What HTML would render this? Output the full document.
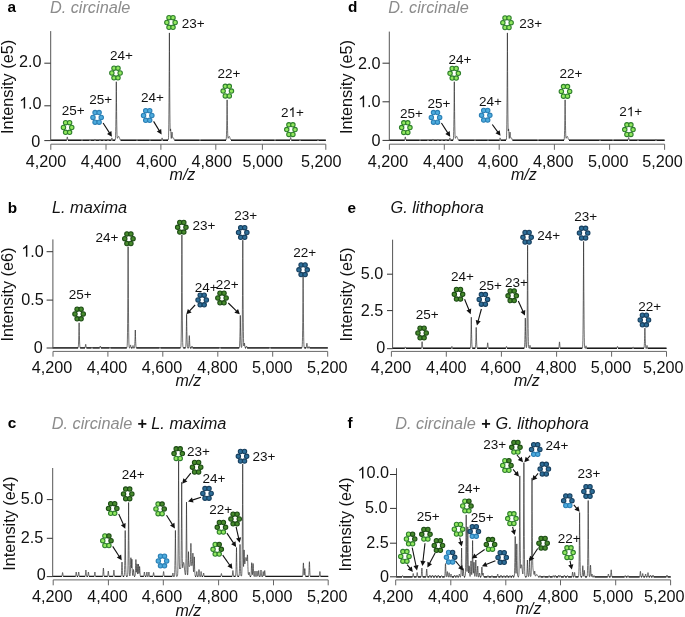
<!DOCTYPE html>
<html><head><meta charset="utf-8"><style>
html,body{margin:0;padding:0;background:#fff;}
svg{display:block;}
#w{width:685px;height:617px;overflow:hidden;will-change:transform;}
text{font-family:"Liberation Sans", sans-serif;}
</style></head><body>
<div id="w"><svg width="685" height="617" viewBox="0 0 685 617">
<rect width="685" height="617" fill="#fff"/>
<path d="M50.70 140.25H66.60 M68.00 140.25H81.60 M82.40 140.25H89.50 M90.50 140.25H94.50 M95.50 140.25H99.50 M100.50 140.25H103.50 M104.50 140.25H107.50 M108.50 140.25H111.30 M112.50 140.25H115.10 M120.60 140.25H136.60 M137.40 140.25H149.60 M150.40 140.25H161.50 M162.70 140.25H168.00 M174.50 140.25H199.60 M200.40 140.25H226.00 M231.00 140.25H261.50 M262.50 140.25H274.60 M275.40 140.25H290.00 M291.40 140.25H299.50 M300.50 140.25H317.50 M318.50 140.25H325.80" stroke="#111" stroke-width="1.3" fill="none"/>
<polyline points="50.70,140.40 66.30,140.39 66.40,140.36 66.50,140.30 66.60,140.17 66.70,139.93 66.80,139.53 66.90,138.96 67.00,138.28 67.10,137.60 67.20,137.09 67.30,136.90 67.40,137.09 67.50,137.60 67.60,138.28 67.70,138.96 67.80,139.53 67.90,139.93 68.00,140.17 68.10,140.30 68.20,140.36 68.30,140.39 81.20,140.38 81.30,140.35 81.40,140.31 81.50,140.23 81.60,140.11 81.70,139.98 81.80,139.84 81.90,139.74 82.00,139.70 82.10,139.74 82.20,139.84 82.30,139.98 82.40,140.11 82.50,140.23 82.60,140.31 82.70,140.35 82.80,140.38 89.10,140.39 89.20,140.37 89.30,140.33 89.40,140.26 89.50,140.15 89.60,139.99 89.70,139.79 89.80,139.60 89.90,139.45 90.00,139.40 90.10,139.45 90.20,139.60 90.30,139.79 90.40,139.99 90.50,140.15 90.60,140.26 90.70,140.33 90.80,140.37 90.90,140.39 94.10,140.38 94.20,140.36 94.30,140.31 94.40,140.21 94.50,140.05 94.60,139.82 94.70,139.55 94.80,139.28 94.90,139.08 95.00,139.00 95.10,139.08 95.20,139.28 95.30,139.55 95.40,139.82 95.50,140.05 95.60,140.21 95.70,140.31 95.80,140.36 95.90,140.38 99.10,140.39 99.20,140.37 99.30,140.32 99.40,140.24 99.50,140.10 99.60,139.91 99.70,139.67 99.80,139.44 99.90,139.26 100.00,139.20 100.10,139.26 100.20,139.44 100.30,139.67 100.40,139.91 100.50,140.10 100.60,140.24 100.70,140.32 100.80,140.37 100.90,140.39 103.10,140.39 103.20,140.37 103.30,140.33 103.40,140.26 103.50,140.15 103.60,139.99 103.70,139.79 103.80,139.60 103.90,139.45 104.00,139.40 104.10,139.45 104.20,139.60 104.30,139.79 104.40,139.99 104.50,140.15 104.60,140.26 104.70,140.33 104.80,140.37 104.90,140.39 107.10,140.39 107.20,140.37 107.30,140.32 107.40,140.24 107.50,140.10 107.60,139.91 107.70,139.67 107.80,139.44 107.90,139.26 108.00,139.20 108.10,139.26 108.20,139.44 108.30,139.67 108.40,139.91 108.50,140.10 108.60,140.24 108.70,140.32 108.80,140.37 108.90,140.39 110.90,140.39 111.00,140.37 111.10,140.33 111.20,140.24 111.30,140.06 111.40,139.78 111.50,139.37 111.60,138.88 111.70,138.40 111.80,138.04 111.90,137.90 112.00,138.04 112.10,138.40 112.20,138.88 112.30,139.37 112.40,139.78 112.50,140.06 112.60,140.24 112.70,140.33 112.80,140.37 112.90,140.39 113.80,140.40 113.90,140.35 114.00,140.34 114.10,140.34 114.20,140.33 114.30,140.33 114.40,140.32 114.50,140.31 114.60,140.30 114.70,140.28 114.80,140.27 114.90,140.24 115.00,140.20 115.10,140.12 115.20,139.95 115.30,139.60 115.40,138.89 115.50,137.55 115.60,135.23 115.70,131.58 115.80,126.36 115.90,119.63 116.00,111.75 116.10,102.91 116.20,91.79 116.30,81.75 116.40,91.70 116.50,102.73 116.60,111.47 116.70,119.25 116.80,125.85 116.90,130.93 117.00,134.42 117.10,136.56 117.20,137.71 117.30,138.20 117.40,138.31 117.50,138.23 117.60,138.04 117.70,137.82 117.80,137.57 117.90,137.33 118.00,137.10 118.10,136.88 118.20,136.69 118.30,136.54 118.40,136.43 118.50,136.36 118.60,136.34 118.70,136.37 118.80,136.50 118.90,136.62 119.00,136.78 119.10,136.97 119.20,137.20 119.30,137.44 119.40,137.71 119.50,137.97 119.60,138.24 119.70,138.50 119.80,138.76 119.90,138.99 120.00,139.21 120.10,139.40 120.20,139.58 120.30,139.73 120.40,139.86 120.50,139.97 120.60,140.06 120.70,140.14 120.80,140.20 120.90,140.25 121.00,140.29 121.10,140.32 121.20,140.34 121.30,140.36 121.40,140.37 121.50,140.38 121.60,140.38 136.10,140.39 136.20,140.38 136.30,140.35 136.40,140.29 136.50,140.20 136.60,140.07 136.70,139.91 136.80,139.76 136.90,139.64 137.00,139.60 137.10,139.64 137.20,139.76 137.30,139.91 137.40,140.07 137.50,140.20 137.60,140.29 137.70,140.35 137.80,140.38 137.90,140.39 149.10,140.39 149.20,140.38 149.30,140.35 149.40,140.29 149.50,140.20 149.60,140.07 149.70,139.91 149.80,139.76 149.90,139.64 150.00,139.60 150.10,139.64 150.20,139.76 150.30,139.91 150.40,140.07 150.50,140.20 150.60,140.29 150.70,140.35 150.80,140.38 150.90,140.39 161.10,140.39 161.20,140.37 161.30,140.33 161.40,140.24 161.50,140.06 161.60,139.78 161.70,139.37 161.80,138.88 161.90,138.40 162.00,138.04 162.10,137.90 162.20,138.04 162.30,138.40 162.40,138.88 162.50,139.37 162.60,139.78 162.70,140.06 162.80,140.24 162.90,140.33 163.00,140.37 163.10,140.39 166.10,140.40 166.20,140.35 166.30,140.34 166.40,140.34 166.50,140.34 166.60,140.33 166.70,140.33 166.80,140.32 166.90,140.31 167.00,140.31 167.10,140.30 167.20,140.29 167.30,140.28 167.40,140.27 167.50,140.25 167.60,140.23 167.70,140.21 167.80,140.19 167.90,140.16 168.00,140.11 168.10,140.04 168.20,139.89 168.30,139.58 168.40,138.94 168.50,137.64 168.60,135.19 168.70,130.93 168.80,124.23 168.90,114.65 169.00,102.32 169.10,87.87 169.20,71.67 169.30,51.28 169.40,32.90 169.50,51.26 169.60,71.62 169.70,87.74 169.80,102.00 169.90,113.93 170.00,122.74 170.10,128.19 170.20,130.66 170.30,130.97 170.40,130.13 170.50,129.18 170.60,128.89 170.70,129.62 170.80,131.28 170.90,133.43 171.00,135.53 171.10,137.17 171.20,138.15 171.30,138.44 171.40,138.09 171.50,137.24 171.60,136.04 171.70,134.67 171.80,133.40 171.90,132.47 172.00,132.08 172.10,132.31 172.20,133.07 172.30,134.17 172.40,135.36 172.50,136.43 172.60,137.24 172.70,137.80 172.80,138.05 172.90,138.10 173.00,138.06 173.10,137.98 173.20,137.91 173.30,137.89 173.40,137.93 173.50,138.03 173.60,138.19 173.70,138.40 173.80,138.63 173.90,138.88 174.00,139.13 174.10,139.37 174.20,139.59 174.30,139.78 174.40,139.93 174.50,140.06 174.60,140.16 174.70,140.24 174.80,140.29 174.90,140.33 175.00,140.35 175.10,140.37 175.20,140.38 199.20,140.38 199.30,140.36 199.40,140.32 199.50,140.25 199.60,140.15 199.70,140.04 199.80,139.92 199.90,139.83 200.00,139.80 200.10,139.83 200.20,139.92 200.30,140.04 200.40,140.15 200.50,140.25 200.60,140.32 200.70,140.36 200.80,140.38 225.00,140.40 225.10,140.35 225.20,140.34 225.30,140.34 225.40,140.33 225.50,140.32 225.60,140.31 225.70,140.29 225.80,140.26 225.90,140.21 226.00,140.09 226.10,139.85 226.20,139.36 226.30,138.43 226.40,136.83 226.50,134.31 226.60,130.70 226.70,126.06 226.80,120.61 226.90,114.50 227.00,106.82 227.10,99.87 227.20,106.73 227.30,114.33 227.40,120.34 227.50,125.67 227.60,130.18 227.70,133.63 227.80,135.98 227.90,137.37 228.00,138.06 228.10,138.30 228.20,138.26 228.30,138.08 228.40,137.84 228.50,137.56 228.60,137.29 228.70,137.03 228.80,136.80 228.90,136.61 229.00,136.47 229.10,136.38 229.20,136.40 229.30,136.43 229.40,136.52 229.50,136.67 229.60,136.87 229.70,137.11 229.80,137.38 229.90,137.67 230.00,137.97 230.10,138.28 230.20,138.57 230.30,138.85 230.40,139.10 230.50,139.33 230.60,139.53 230.70,139.71 230.80,139.86 230.90,139.98 231.00,140.08 231.10,140.16 231.20,140.22 231.30,140.27 231.40,140.31 231.50,140.34 231.60,140.36 231.70,140.37 231.80,140.38 231.90,140.39 261.10,140.39 261.20,140.37 261.30,140.33 261.40,140.26 261.50,140.15 261.60,139.99 261.70,139.79 261.80,139.60 261.90,139.45 262.00,139.40 262.10,139.45 262.20,139.60 262.30,139.79 262.40,139.99 262.50,140.15 262.60,140.26 262.70,140.33 262.80,140.37 262.90,140.39 274.20,140.38 274.30,140.36 274.40,140.32 274.50,140.25 274.60,140.15 274.70,140.04 274.80,139.92 274.90,139.83 275.00,139.80 275.10,139.83 275.20,139.92 275.30,140.04 275.40,140.15 275.50,140.25 275.60,140.32 275.70,140.36 275.80,140.38 289.70,140.39 289.80,140.37 289.90,140.31 290.00,140.20 290.10,139.99 290.20,139.65 290.30,139.17 290.40,138.58 290.50,138.00 290.60,137.56 290.70,137.40 290.80,137.56 290.90,138.00 291.00,138.58 291.10,139.17 291.20,139.65 291.30,139.99 291.40,140.20 291.50,140.31 291.60,140.37 291.70,140.39 299.10,140.39 299.20,140.37 299.30,140.33 299.40,140.26 299.50,140.15 299.60,139.99 299.70,139.79 299.80,139.60 299.90,139.45 300.00,139.40 300.10,139.45 300.20,139.60 300.30,139.79 300.40,139.99 300.50,140.15 300.60,140.26 300.70,140.33 300.80,140.37 300.90,140.39 317.10,140.39 317.20,140.37 317.30,140.32 317.40,140.24 317.50,140.10 317.60,139.91 317.70,139.67 317.80,139.44 317.90,139.26 318.00,139.20 318.10,139.26 318.20,139.44 318.30,139.67 318.40,139.91 318.50,140.10 318.60,140.24 318.70,140.32 318.80,140.37 318.90,140.39 325.80,140.40" fill="none" stroke="#222" stroke-width="0.65" stroke-linejoin="round"/>
<line x1="50.70" y1="31.10" x2="50.70" y2="140.90" stroke="#555" stroke-width="1"/>
<line x1="44.30" y1="63.20" x2="50.70" y2="63.20" stroke="#333" stroke-width="1"/>
<text x="19.11" y="66.80" font-size="16.2" font-weight="normal" font-style="normal" fill="#111" >2.0</text>
<line x1="44.30" y1="105.80" x2="50.70" y2="105.80" stroke="#333" stroke-width="1"/>
<path transform="translate(19.11,108.50) scale(0.00791,-0.00791)" d="M763 0L583 0L583 1147Q518 1085 412 1023Q306 961 222 930L222 1104Q373 1175 486 1276Q599 1377 646 1466L763 1466Z" fill="#111"/>
<text x="19.11" y="108.50" font-size="16.2" font-weight="normal" font-style="normal" fill="#111" > .0</text>
<line x1="44.30" y1="140.60" x2="50.70" y2="140.60" stroke="#333" stroke-width="1"/>
<text x="31.22" y="146.80" font-size="16.2" font-weight="normal" font-style="normal" fill="#111" >0</text>
<line x1="50.80" y1="144.20" x2="325.80" y2="144.20" stroke="#666" stroke-width="1"/>
<line x1="50.80" y1="144.20" x2="50.80" y2="149.80" stroke="#666" stroke-width="1"/>
<line x1="106.00" y1="144.20" x2="106.00" y2="149.80" stroke="#666" stroke-width="1"/>
<line x1="160.90" y1="144.20" x2="160.90" y2="149.80" stroke="#666" stroke-width="1"/>
<line x1="215.80" y1="144.20" x2="215.80" y2="149.80" stroke="#666" stroke-width="1"/>
<line x1="262.40" y1="144.20" x2="262.40" y2="149.80" stroke="#666" stroke-width="1"/>
<line x1="325.80" y1="144.20" x2="325.80" y2="149.80" stroke="#666" stroke-width="1"/>
<text x="25.76" y="166.50" font-size="16.2" font-weight="normal" font-style="normal" fill="#111" >4,200</text>
<text x="80.86" y="166.50" font-size="16.2" font-weight="normal" font-style="normal" fill="#111" >4,400</text>
<text x="136.36" y="166.50" font-size="16.2" font-weight="normal" font-style="normal" fill="#111" >4,600</text>
<text x="191.56" y="166.50" font-size="16.2" font-weight="normal" font-style="normal" fill="#111" >4,800</text>
<text x="242.42" y="166.50" font-size="16.2" font-weight="normal" font-style="normal" fill="#111" >5,000</text>
<text x="301.02" y="166.50" font-size="16.2" font-weight="normal" font-style="normal" fill="#111" >5,200</text>
<text x="169.59" y="180.00" font-size="16" font-weight="normal" font-style="italic" fill="#111" >m/z</text>
<text transform="translate(12.80,133.90) rotate(-90)" x="0" y="0" font-size="16.3" fill="#111">Intensity (e5)</text>
<text x="7.45" y="12.30" font-size="15.3" font-weight="bold" font-style="normal" fill="#000" >a</text>
<text x="49.90" y="12.50" font-size="16.3" font-weight="normal" font-style="italic" fill="#8c8c8c" >D. circinale</text>
<text x="61.64" y="114.60" font-size="13.5" font-weight="normal" font-style="normal" fill="#111" >25+</text>
<text x="89.24" y="104.30" font-size="13.5" font-weight="normal" font-style="normal" fill="#111" >25+</text>
<text x="110.04" y="60.10" font-size="13.5" font-weight="normal" font-style="normal" fill="#111" >24+</text>
<text x="141.04" y="102.10" font-size="13.5" font-weight="normal" font-style="normal" fill="#111" >24+</text>
<text x="181.74" y="27.70" font-size="13.5" font-weight="normal" font-style="normal" fill="#111" >23+</text>
<text x="217.54" y="78.00" font-size="13.5" font-weight="normal" font-style="normal" fill="#111" >22+</text>
<path transform="translate(288.55,116.90) scale(0.00659,-0.00659)" d="M763 0L583 0L583 1147Q518 1085 412 1023Q306 961 222 930L222 1104Q373 1175 486 1276Q599 1377 646 1466L763 1466Z" fill="#111"/>
<text x="281.04" y="116.90" font-size="13.5" font-weight="normal" font-style="normal" fill="#111" >2 +</text>
<line x1="103.10" y1="123.00" x2="109.47" y2="132.91" stroke="#111" stroke-width="1.1"/>
<polygon points="111.90,136.70 107.01,133.90 111.39,131.09" fill="#111"/>
<line x1="153.60" y1="121.40" x2="159.25" y2="130.66" stroke="#111" stroke-width="1.1"/>
<polygon points="161.60,134.50 156.78,131.59 161.21,128.88" fill="#111"/>
<circle cx="65.60" cy="122.70" r="2.2" fill="#90e85e" stroke="#2e7f2c" stroke-width="1.1"/>
<circle cx="69.60" cy="122.70" r="2.2" fill="#90e85e" stroke="#2e7f2c" stroke-width="1.1"/>
<circle cx="63.45" cy="127.50" r="2.2" fill="#90e85e" stroke="#2e7f2c" stroke-width="1.1"/>
<circle cx="71.75" cy="127.50" r="2.2" fill="#90e85e" stroke="#2e7f2c" stroke-width="1.1"/>
<circle cx="65.60" cy="132.30" r="2.2" fill="#90e85e" stroke="#2e7f2c" stroke-width="1.1"/>
<circle cx="69.60" cy="132.30" r="2.2" fill="#90e85e" stroke="#2e7f2c" stroke-width="1.1"/>
<circle cx="95.10" cy="112.60" r="2.2" fill="#4cabdd" stroke="#2a7fb5" stroke-width="1.1"/>
<circle cx="99.10" cy="112.60" r="2.2" fill="#4cabdd" stroke="#2a7fb5" stroke-width="1.1"/>
<circle cx="92.95" cy="117.40" r="2.2" fill="#4cabdd" stroke="#2a7fb5" stroke-width="1.1"/>
<circle cx="101.25" cy="117.40" r="2.2" fill="#4cabdd" stroke="#2a7fb5" stroke-width="1.1"/>
<circle cx="95.10" cy="122.20" r="2.2" fill="#4cabdd" stroke="#2a7fb5" stroke-width="1.1"/>
<circle cx="99.10" cy="122.20" r="2.2" fill="#4cabdd" stroke="#2a7fb5" stroke-width="1.1"/>
<circle cx="114.00" cy="68.20" r="2.2" fill="#90e85e" stroke="#2e7f2c" stroke-width="1.1"/>
<circle cx="118.00" cy="68.20" r="2.2" fill="#90e85e" stroke="#2e7f2c" stroke-width="1.1"/>
<circle cx="111.85" cy="73.00" r="2.2" fill="#90e85e" stroke="#2e7f2c" stroke-width="1.1"/>
<circle cx="120.15" cy="73.00" r="2.2" fill="#90e85e" stroke="#2e7f2c" stroke-width="1.1"/>
<circle cx="114.00" cy="77.80" r="2.2" fill="#90e85e" stroke="#2e7f2c" stroke-width="1.1"/>
<circle cx="118.00" cy="77.80" r="2.2" fill="#90e85e" stroke="#2e7f2c" stroke-width="1.1"/>
<circle cx="145.70" cy="110.70" r="2.2" fill="#4cabdd" stroke="#2a7fb5" stroke-width="1.1"/>
<circle cx="149.70" cy="110.70" r="2.2" fill="#4cabdd" stroke="#2a7fb5" stroke-width="1.1"/>
<circle cx="143.55" cy="115.50" r="2.2" fill="#4cabdd" stroke="#2a7fb5" stroke-width="1.1"/>
<circle cx="151.85" cy="115.50" r="2.2" fill="#4cabdd" stroke="#2a7fb5" stroke-width="1.1"/>
<circle cx="145.70" cy="120.30" r="2.2" fill="#4cabdd" stroke="#2a7fb5" stroke-width="1.1"/>
<circle cx="149.70" cy="120.30" r="2.2" fill="#4cabdd" stroke="#2a7fb5" stroke-width="1.1"/>
<circle cx="169.00" cy="17.70" r="2.2" fill="#90e85e" stroke="#2e7f2c" stroke-width="1.1"/>
<circle cx="173.00" cy="17.70" r="2.2" fill="#90e85e" stroke="#2e7f2c" stroke-width="1.1"/>
<circle cx="166.85" cy="22.50" r="2.2" fill="#90e85e" stroke="#2e7f2c" stroke-width="1.1"/>
<circle cx="175.15" cy="22.50" r="2.2" fill="#90e85e" stroke="#2e7f2c" stroke-width="1.1"/>
<circle cx="169.00" cy="27.30" r="2.2" fill="#90e85e" stroke="#2e7f2c" stroke-width="1.1"/>
<circle cx="173.00" cy="27.30" r="2.2" fill="#90e85e" stroke="#2e7f2c" stroke-width="1.1"/>
<circle cx="225.30" cy="86.30" r="2.2" fill="#90e85e" stroke="#2e7f2c" stroke-width="1.1"/>
<circle cx="229.30" cy="86.30" r="2.2" fill="#90e85e" stroke="#2e7f2c" stroke-width="1.1"/>
<circle cx="223.15" cy="91.10" r="2.2" fill="#90e85e" stroke="#2e7f2c" stroke-width="1.1"/>
<circle cx="231.45" cy="91.10" r="2.2" fill="#90e85e" stroke="#2e7f2c" stroke-width="1.1"/>
<circle cx="225.30" cy="95.90" r="2.2" fill="#90e85e" stroke="#2e7f2c" stroke-width="1.1"/>
<circle cx="229.30" cy="95.90" r="2.2" fill="#90e85e" stroke="#2e7f2c" stroke-width="1.1"/>
<circle cx="288.90" cy="124.80" r="2.2" fill="#90e85e" stroke="#2e7f2c" stroke-width="1.1"/>
<circle cx="292.90" cy="124.80" r="2.2" fill="#90e85e" stroke="#2e7f2c" stroke-width="1.1"/>
<circle cx="286.75" cy="129.60" r="2.2" fill="#90e85e" stroke="#2e7f2c" stroke-width="1.1"/>
<circle cx="295.05" cy="129.60" r="2.2" fill="#90e85e" stroke="#2e7f2c" stroke-width="1.1"/>
<circle cx="288.90" cy="134.40" r="2.2" fill="#90e85e" stroke="#2e7f2c" stroke-width="1.1"/>
<circle cx="292.90" cy="134.40" r="2.2" fill="#90e85e" stroke="#2e7f2c" stroke-width="1.1"/>
<path d="M389.30 140.25H404.60 M406.00 140.25H419.60 M420.40 140.25H427.50 M428.50 140.25H432.50 M433.50 140.25H437.50 M438.50 140.25H441.50 M442.50 140.25H445.50 M446.50 140.25H449.30 M450.50 140.25H453.10 M458.60 140.25H474.60 M475.40 140.25H487.60 M488.40 140.25H499.50 M500.70 140.25H506.00 M512.50 140.25H537.60 M538.40 140.25H564.00 M569.00 140.25H599.50 M600.50 140.25H612.60 M613.40 140.25H628.00 M629.40 140.25H637.50 M638.50 140.25H655.50 M656.50 140.25H664.60" stroke="#111" stroke-width="1.3" fill="none"/>
<polyline points="389.30,140.40 404.30,140.39 404.40,140.36 404.50,140.30 404.60,140.17 404.70,139.93 404.80,139.53 404.90,138.96 405.00,138.28 405.10,137.60 405.20,137.09 405.30,136.90 405.40,137.09 405.50,137.60 405.60,138.28 405.70,138.96 405.80,139.53 405.90,139.93 406.00,140.17 406.10,140.30 406.20,140.36 406.30,140.39 419.20,140.38 419.30,140.35 419.40,140.31 419.50,140.23 419.60,140.11 419.70,139.98 419.80,139.84 419.90,139.74 420.00,139.70 420.10,139.74 420.20,139.84 420.30,139.98 420.40,140.11 420.50,140.23 420.60,140.31 420.70,140.35 420.80,140.38 427.10,140.39 427.20,140.37 427.30,140.33 427.40,140.26 427.50,140.15 427.60,139.99 427.70,139.79 427.80,139.60 427.90,139.45 428.00,139.40 428.10,139.45 428.20,139.60 428.30,139.79 428.40,139.99 428.50,140.15 428.60,140.26 428.70,140.33 428.80,140.37 428.90,140.39 432.10,140.38 432.20,140.36 432.30,140.31 432.40,140.21 432.50,140.05 432.60,139.82 432.70,139.55 432.80,139.28 432.90,139.08 433.00,139.00 433.10,139.08 433.20,139.28 433.30,139.55 433.40,139.82 433.50,140.05 433.60,140.21 433.70,140.31 433.80,140.36 433.90,140.38 437.10,140.39 437.20,140.37 437.30,140.32 437.40,140.24 437.50,140.10 437.60,139.91 437.70,139.67 437.80,139.44 437.90,139.26 438.00,139.20 438.10,139.26 438.20,139.44 438.30,139.67 438.40,139.91 438.50,140.10 438.60,140.24 438.70,140.32 438.80,140.37 438.90,140.39 441.10,140.39 441.20,140.37 441.30,140.33 441.40,140.26 441.50,140.15 441.60,139.99 441.70,139.79 441.80,139.60 441.90,139.45 442.00,139.40 442.10,139.45 442.20,139.60 442.30,139.79 442.40,139.99 442.50,140.15 442.60,140.26 442.70,140.33 442.80,140.37 442.90,140.39 445.10,140.39 445.20,140.37 445.30,140.32 445.40,140.24 445.50,140.10 445.60,139.91 445.70,139.67 445.80,139.44 445.90,139.26 446.00,139.20 446.10,139.26 446.20,139.44 446.30,139.67 446.40,139.91 446.50,140.10 446.60,140.24 446.70,140.32 446.80,140.37 446.90,140.39 448.90,140.39 449.00,140.37 449.10,140.33 449.20,140.24 449.30,140.06 449.40,139.78 449.50,139.37 449.60,138.88 449.70,138.40 449.80,138.04 449.90,137.90 450.00,138.04 450.10,138.40 450.20,138.88 450.30,139.37 450.40,139.78 450.50,140.06 450.60,140.24 450.70,140.33 450.80,140.37 450.90,140.39 451.80,140.40 451.90,140.35 452.00,140.34 452.10,140.34 452.20,140.33 452.30,140.33 452.40,140.32 452.50,140.31 452.60,140.30 452.70,140.28 452.80,140.27 452.90,140.24 453.00,140.20 453.10,140.12 453.20,139.95 453.30,139.60 453.40,138.89 453.50,137.55 453.60,135.23 453.70,131.58 453.80,126.36 453.90,119.63 454.00,111.75 454.10,102.91 454.20,91.79 454.30,81.75 454.40,91.70 454.50,102.73 454.60,111.47 454.70,119.25 454.80,125.85 454.90,130.93 455.00,134.42 455.10,136.56 455.20,137.71 455.30,138.20 455.40,138.31 455.50,138.23 455.60,138.04 455.70,137.82 455.80,137.57 455.90,137.33 456.00,137.10 456.10,136.88 456.20,136.69 456.30,136.54 456.40,136.43 456.50,136.36 456.60,136.34 456.70,136.37 456.80,136.50 456.90,136.62 457.00,136.78 457.10,136.97 457.20,137.20 457.30,137.44 457.40,137.71 457.50,137.97 457.60,138.24 457.70,138.50 457.80,138.76 457.90,138.99 458.00,139.21 458.10,139.40 458.20,139.58 458.30,139.73 458.40,139.86 458.50,139.97 458.60,140.06 458.70,140.14 458.80,140.20 458.90,140.25 459.00,140.29 459.10,140.32 459.20,140.34 459.30,140.36 459.40,140.37 459.50,140.38 459.60,140.38 474.10,140.39 474.20,140.38 474.30,140.35 474.40,140.29 474.50,140.20 474.60,140.07 474.70,139.91 474.80,139.76 474.90,139.64 475.00,139.60 475.10,139.64 475.20,139.76 475.30,139.91 475.40,140.07 475.50,140.20 475.60,140.29 475.70,140.35 475.80,140.38 475.90,140.39 487.10,140.39 487.20,140.38 487.30,140.35 487.40,140.29 487.50,140.20 487.60,140.07 487.70,139.91 487.80,139.76 487.90,139.64 488.00,139.60 488.10,139.64 488.20,139.76 488.30,139.91 488.40,140.07 488.50,140.20 488.60,140.29 488.70,140.35 488.80,140.38 488.90,140.39 499.10,140.39 499.20,140.37 499.30,140.33 499.40,140.24 499.50,140.06 499.60,139.78 499.70,139.37 499.80,138.88 499.90,138.40 500.00,138.04 500.10,137.90 500.20,138.04 500.30,138.40 500.40,138.88 500.50,139.37 500.60,139.78 500.70,140.06 500.80,140.24 500.90,140.33 501.00,140.37 501.10,140.39 504.10,140.40 504.20,140.35 504.30,140.34 504.40,140.34 504.50,140.34 504.60,140.33 504.70,140.33 504.80,140.32 504.90,140.31 505.00,140.31 505.10,140.30 505.20,140.29 505.30,140.28 505.40,140.27 505.50,140.25 505.60,140.23 505.70,140.21 505.80,140.19 505.90,140.16 506.00,140.11 506.10,140.04 506.20,139.89 506.30,139.58 506.40,138.94 506.50,137.64 506.60,135.19 506.70,130.93 506.80,124.23 506.90,114.65 507.00,102.32 507.10,87.87 507.20,71.67 507.30,51.28 507.40,32.90 507.50,51.26 507.60,71.62 507.70,87.74 507.80,102.00 507.90,113.93 508.00,122.74 508.10,128.19 508.20,130.66 508.30,130.97 508.40,130.13 508.50,129.18 508.60,128.89 508.70,129.62 508.80,131.28 508.90,133.43 509.00,135.53 509.10,137.17 509.20,138.15 509.30,138.44 509.40,138.09 509.50,137.24 509.60,136.04 509.70,134.67 509.80,133.40 509.90,132.47 510.00,132.08 510.10,132.31 510.20,133.07 510.30,134.17 510.40,135.36 510.50,136.43 510.60,137.24 510.70,137.80 510.80,138.05 510.90,138.10 511.00,138.06 511.10,137.98 511.20,137.91 511.30,137.89 511.40,137.93 511.50,138.03 511.60,138.19 511.70,138.40 511.80,138.63 511.90,138.88 512.00,139.13 512.10,139.37 512.20,139.59 512.30,139.78 512.40,139.93 512.50,140.06 512.60,140.16 512.70,140.24 512.80,140.29 512.90,140.33 513.00,140.35 513.10,140.37 513.20,140.38 537.20,140.38 537.30,140.36 537.40,140.32 537.50,140.25 537.60,140.15 537.70,140.04 537.80,139.92 537.90,139.83 538.00,139.80 538.10,139.83 538.20,139.92 538.30,140.04 538.40,140.15 538.50,140.25 538.60,140.32 538.70,140.36 538.80,140.38 563.00,140.40 563.10,140.35 563.20,140.34 563.30,140.34 563.40,140.33 563.50,140.32 563.60,140.31 563.70,140.29 563.80,140.26 563.90,140.21 564.00,140.09 564.10,139.85 564.20,139.36 564.30,138.43 564.40,136.83 564.50,134.31 564.60,130.70 564.70,126.06 564.80,120.61 564.90,114.50 565.00,106.82 565.10,99.87 565.20,106.73 565.30,114.33 565.40,120.34 565.50,125.67 565.60,130.18 565.70,133.63 565.80,135.98 565.90,137.37 566.00,138.06 566.10,138.30 566.20,138.26 566.30,138.08 566.40,137.84 566.50,137.56 566.60,137.29 566.70,137.03 566.80,136.80 566.90,136.61 567.00,136.47 567.10,136.38 567.20,136.40 567.30,136.43 567.40,136.52 567.50,136.67 567.60,136.87 567.70,137.11 567.80,137.38 567.90,137.67 568.00,137.97 568.10,138.28 568.20,138.57 568.30,138.85 568.40,139.10 568.50,139.33 568.60,139.53 568.70,139.71 568.80,139.86 568.90,139.98 569.00,140.08 569.10,140.16 569.20,140.22 569.30,140.27 569.40,140.31 569.50,140.34 569.60,140.36 569.70,140.37 569.80,140.38 569.90,140.39 599.10,140.39 599.20,140.37 599.30,140.33 599.40,140.26 599.50,140.15 599.60,139.99 599.70,139.79 599.80,139.60 599.90,139.45 600.00,139.40 600.10,139.45 600.20,139.60 600.30,139.79 600.40,139.99 600.50,140.15 600.60,140.26 600.70,140.33 600.80,140.37 600.90,140.39 612.20,140.38 612.30,140.36 612.40,140.32 612.50,140.25 612.60,140.15 612.70,140.04 612.80,139.92 612.90,139.83 613.00,139.80 613.10,139.83 613.20,139.92 613.30,140.04 613.40,140.15 613.50,140.25 613.60,140.32 613.70,140.36 613.80,140.38 627.70,140.39 627.80,140.37 627.90,140.31 628.00,140.20 628.10,139.99 628.20,139.65 628.30,139.17 628.40,138.58 628.50,138.00 628.60,137.56 628.70,137.40 628.80,137.56 628.90,138.00 629.00,138.58 629.10,139.17 629.20,139.65 629.30,139.99 629.40,140.20 629.50,140.31 629.60,140.37 629.70,140.39 637.10,140.39 637.20,140.37 637.30,140.33 637.40,140.26 637.50,140.15 637.60,139.99 637.70,139.79 637.80,139.60 637.90,139.45 638.00,139.40 638.10,139.45 638.20,139.60 638.30,139.79 638.40,139.99 638.50,140.15 638.60,140.26 638.70,140.33 638.80,140.37 638.90,140.39 655.10,140.39 655.20,140.37 655.30,140.32 655.40,140.24 655.50,140.10 655.60,139.91 655.70,139.67 655.80,139.44 655.90,139.26 656.00,139.20 656.10,139.26 656.20,139.44 656.30,139.67 656.40,139.91 656.50,140.10 656.60,140.24 656.70,140.32 656.80,140.37 656.90,140.39 664.60,140.40" fill="none" stroke="#222" stroke-width="0.65" stroke-linejoin="round"/>
<line x1="389.30" y1="31.60" x2="389.30" y2="140.90" stroke="#555" stroke-width="1"/>
<line x1="382.50" y1="63.20" x2="389.30" y2="63.20" stroke="#333" stroke-width="1"/>
<text x="358.11" y="68.70" font-size="16.2" font-weight="normal" font-style="normal" fill="#111" >2.0</text>
<line x1="382.50" y1="101.80" x2="389.30" y2="101.80" stroke="#333" stroke-width="1"/>
<path transform="translate(358.11,107.20) scale(0.00791,-0.00791)" d="M763 0L583 0L583 1147Q518 1085 412 1023Q306 961 222 930L222 1104Q373 1175 486 1276Q599 1377 646 1466L763 1466Z" fill="#111"/>
<text x="358.11" y="107.20" font-size="16.2" font-weight="normal" font-style="normal" fill="#111" > .0</text>
<line x1="382.50" y1="140.40" x2="389.30" y2="140.40" stroke="#333" stroke-width="1"/>
<text x="371.62" y="145.80" font-size="16.2" font-weight="normal" font-style="normal" fill="#111" >0</text>
<line x1="389.40" y1="144.20" x2="664.60" y2="144.20" stroke="#666" stroke-width="1"/>
<line x1="389.40" y1="144.20" x2="389.40" y2="149.80" stroke="#666" stroke-width="1"/>
<line x1="444.30" y1="144.20" x2="444.30" y2="149.80" stroke="#666" stroke-width="1"/>
<line x1="499.20" y1="144.20" x2="499.20" y2="149.80" stroke="#666" stroke-width="1"/>
<line x1="554.40" y1="144.20" x2="554.40" y2="149.80" stroke="#666" stroke-width="1"/>
<line x1="609.60" y1="144.20" x2="609.60" y2="149.80" stroke="#666" stroke-width="1"/>
<line x1="664.60" y1="144.20" x2="664.60" y2="149.80" stroke="#666" stroke-width="1"/>
<text x="367.86" y="166.50" font-size="16.2" font-weight="normal" font-style="normal" fill="#111" >4,200</text>
<text x="422.96" y="166.50" font-size="16.2" font-weight="normal" font-style="normal" fill="#111" >4,400</text>
<text x="477.76" y="166.50" font-size="16.2" font-weight="normal" font-style="normal" fill="#111" >4,600</text>
<text x="532.96" y="166.50" font-size="16.2" font-weight="normal" font-style="normal" fill="#111" >4,800</text>
<text x="587.92" y="166.50" font-size="16.2" font-weight="normal" font-style="normal" fill="#111" >5,000</text>
<text x="642.22" y="166.50" font-size="16.2" font-weight="normal" font-style="normal" fill="#111" >5,200</text>
<text x="510.99" y="179.60" font-size="16" font-weight="normal" font-style="italic" fill="#111" >m/z</text>
<text transform="translate(351.70,134.10) rotate(-90)" x="0" y="0" font-size="16.3" fill="#111">Intensity (e5)</text>
<text x="347.97" y="12.30" font-size="15.3" font-weight="bold" font-style="normal" fill="#000" >d</text>
<text x="388.20" y="12.50" font-size="16.3" font-weight="normal" font-style="italic" fill="#8c8c8c" >D. circinale</text>
<text x="399.99" y="118.00" font-size="13.5" font-weight="normal" font-style="normal" fill="#111" >25+</text>
<text x="427.44" y="108.30" font-size="13.5" font-weight="normal" font-style="normal" fill="#111" >25+</text>
<text x="448.54" y="63.90" font-size="13.5" font-weight="normal" font-style="normal" fill="#111" >24+</text>
<text x="479.04" y="105.70" font-size="13.5" font-weight="normal" font-style="normal" fill="#111" >24+</text>
<text x="519.24" y="27.70" font-size="13.5" font-weight="normal" font-style="normal" fill="#111" >23+</text>
<text x="559.54" y="77.50" font-size="13.5" font-weight="normal" font-style="normal" fill="#111" >22+</text>
<path transform="translate(626.75,116.30) scale(0.00659,-0.00659)" d="M763 0L583 0L583 1147Q518 1085 412 1023Q306 961 222 930L222 1104Q373 1175 486 1276Q599 1377 646 1466L763 1466Z" fill="#111"/>
<text x="619.24" y="116.30" font-size="13.5" font-weight="normal" font-style="normal" fill="#111" >2 +</text>
<line x1="441.40" y1="123.00" x2="447.77" y2="132.91" stroke="#111" stroke-width="1.1"/>
<polygon points="450.20,136.70 445.31,133.90 449.69,131.09" fill="#111"/>
<line x1="492.30" y1="124.50" x2="497.86" y2="132.16" stroke="#111" stroke-width="1.1"/>
<polygon points="500.50,135.80 495.46,133.28 499.67,130.23" fill="#111"/>
<circle cx="403.80" cy="122.80" r="2.2" fill="#90e85e" stroke="#2e7f2c" stroke-width="1.1"/>
<circle cx="407.80" cy="122.80" r="2.2" fill="#90e85e" stroke="#2e7f2c" stroke-width="1.1"/>
<circle cx="401.65" cy="127.60" r="2.2" fill="#90e85e" stroke="#2e7f2c" stroke-width="1.1"/>
<circle cx="409.95" cy="127.60" r="2.2" fill="#90e85e" stroke="#2e7f2c" stroke-width="1.1"/>
<circle cx="403.80" cy="132.40" r="2.2" fill="#90e85e" stroke="#2e7f2c" stroke-width="1.1"/>
<circle cx="407.80" cy="132.40" r="2.2" fill="#90e85e" stroke="#2e7f2c" stroke-width="1.1"/>
<circle cx="433.50" cy="112.60" r="2.2" fill="#4cabdd" stroke="#2a7fb5" stroke-width="1.1"/>
<circle cx="437.50" cy="112.60" r="2.2" fill="#4cabdd" stroke="#2a7fb5" stroke-width="1.1"/>
<circle cx="431.35" cy="117.40" r="2.2" fill="#4cabdd" stroke="#2a7fb5" stroke-width="1.1"/>
<circle cx="439.65" cy="117.40" r="2.2" fill="#4cabdd" stroke="#2a7fb5" stroke-width="1.1"/>
<circle cx="433.50" cy="122.20" r="2.2" fill="#4cabdd" stroke="#2a7fb5" stroke-width="1.1"/>
<circle cx="437.50" cy="122.20" r="2.2" fill="#4cabdd" stroke="#2a7fb5" stroke-width="1.1"/>
<circle cx="452.20" cy="68.50" r="2.2" fill="#90e85e" stroke="#2e7f2c" stroke-width="1.1"/>
<circle cx="456.20" cy="68.50" r="2.2" fill="#90e85e" stroke="#2e7f2c" stroke-width="1.1"/>
<circle cx="450.05" cy="73.30" r="2.2" fill="#90e85e" stroke="#2e7f2c" stroke-width="1.1"/>
<circle cx="458.35" cy="73.30" r="2.2" fill="#90e85e" stroke="#2e7f2c" stroke-width="1.1"/>
<circle cx="452.20" cy="78.10" r="2.2" fill="#90e85e" stroke="#2e7f2c" stroke-width="1.1"/>
<circle cx="456.20" cy="78.10" r="2.2" fill="#90e85e" stroke="#2e7f2c" stroke-width="1.1"/>
<circle cx="483.70" cy="110.50" r="2.2" fill="#4cabdd" stroke="#2a7fb5" stroke-width="1.1"/>
<circle cx="487.70" cy="110.50" r="2.2" fill="#4cabdd" stroke="#2a7fb5" stroke-width="1.1"/>
<circle cx="481.55" cy="115.30" r="2.2" fill="#4cabdd" stroke="#2a7fb5" stroke-width="1.1"/>
<circle cx="489.85" cy="115.30" r="2.2" fill="#4cabdd" stroke="#2a7fb5" stroke-width="1.1"/>
<circle cx="483.70" cy="120.10" r="2.2" fill="#4cabdd" stroke="#2a7fb5" stroke-width="1.1"/>
<circle cx="487.70" cy="120.10" r="2.2" fill="#4cabdd" stroke="#2a7fb5" stroke-width="1.1"/>
<circle cx="505.00" cy="17.90" r="2.2" fill="#90e85e" stroke="#2e7f2c" stroke-width="1.1"/>
<circle cx="509.00" cy="17.90" r="2.2" fill="#90e85e" stroke="#2e7f2c" stroke-width="1.1"/>
<circle cx="502.85" cy="22.70" r="2.2" fill="#90e85e" stroke="#2e7f2c" stroke-width="1.1"/>
<circle cx="511.15" cy="22.70" r="2.2" fill="#90e85e" stroke="#2e7f2c" stroke-width="1.1"/>
<circle cx="505.00" cy="27.50" r="2.2" fill="#90e85e" stroke="#2e7f2c" stroke-width="1.1"/>
<circle cx="509.00" cy="27.50" r="2.2" fill="#90e85e" stroke="#2e7f2c" stroke-width="1.1"/>
<circle cx="563.50" cy="86.60" r="2.2" fill="#90e85e" stroke="#2e7f2c" stroke-width="1.1"/>
<circle cx="567.50" cy="86.60" r="2.2" fill="#90e85e" stroke="#2e7f2c" stroke-width="1.1"/>
<circle cx="561.35" cy="91.40" r="2.2" fill="#90e85e" stroke="#2e7f2c" stroke-width="1.1"/>
<circle cx="569.65" cy="91.40" r="2.2" fill="#90e85e" stroke="#2e7f2c" stroke-width="1.1"/>
<circle cx="563.50" cy="96.20" r="2.2" fill="#90e85e" stroke="#2e7f2c" stroke-width="1.1"/>
<circle cx="567.50" cy="96.20" r="2.2" fill="#90e85e" stroke="#2e7f2c" stroke-width="1.1"/>
<circle cx="626.90" cy="124.80" r="2.2" fill="#90e85e" stroke="#2e7f2c" stroke-width="1.1"/>
<circle cx="630.90" cy="124.80" r="2.2" fill="#90e85e" stroke="#2e7f2c" stroke-width="1.1"/>
<circle cx="624.75" cy="129.60" r="2.2" fill="#90e85e" stroke="#2e7f2c" stroke-width="1.1"/>
<circle cx="633.05" cy="129.60" r="2.2" fill="#90e85e" stroke="#2e7f2c" stroke-width="1.1"/>
<circle cx="626.90" cy="134.40" r="2.2" fill="#90e85e" stroke="#2e7f2c" stroke-width="1.1"/>
<circle cx="630.90" cy="134.40" r="2.2" fill="#90e85e" stroke="#2e7f2c" stroke-width="1.1"/>
<path d="M52.90 347.85H78.10 M80.10 347.85H85.00 M86.40 347.85H91.60 M92.40 347.85H99.70 M100.90 347.85H109.60 M110.40 347.85H126.80 M129.40 347.85H129.70 M131.20 347.85H132.40 M133.60 347.85H134.30 M136.30 347.85H159.60 M160.40 347.85H180.50 M183.30 347.85H185.50 M187.70 347.85H188.40 M190.20 347.85H191.40 M192.60 347.85H219.60 M220.40 347.85H239.20 M245.20 347.85H245.90 M247.10 347.85H269.60 M270.40 347.85H301.90 M304.30 347.85H306.20 M307.60 347.85H308.40 M309.60 347.85H327.80" stroke="#111" stroke-width="1.3" fill="none"/>
<polyline points="52.90,348.00 77.50,348.00 77.60,347.94 77.70,347.93 77.80,347.91 77.90,347.88 78.00,347.81 78.10,347.66 78.20,347.35 78.30,346.78 78.40,345.78 78.50,344.21 78.60,341.96 78.70,339.07 78.80,335.69 78.90,331.89 79.00,327.11 79.10,322.80 79.20,327.11 79.30,331.89 79.40,335.69 79.50,339.07 79.60,341.96 79.70,344.21 79.80,345.78 79.90,346.78 80.00,347.35 80.10,347.66 80.20,347.81 80.30,347.88 80.40,347.91 80.50,347.93 80.60,347.94 80.70,348.00 84.70,347.99 84.80,347.96 84.90,347.89 85.00,347.76 85.10,347.50 85.20,347.08 85.30,346.48 85.40,345.76 85.50,345.04 85.60,344.50 85.70,344.30 85.80,344.50 85.90,345.04 86.00,345.76 86.10,346.48 86.20,347.08 86.30,347.50 86.40,347.76 86.50,347.89 86.60,347.96 86.70,347.99 91.10,347.99 91.20,347.98 91.30,347.95 91.40,347.89 91.50,347.80 91.60,347.67 91.70,347.51 91.80,347.36 91.90,347.24 92.00,347.20 92.10,347.24 92.20,347.36 92.30,347.51 92.40,347.67 92.50,347.80 92.60,347.89 92.70,347.95 92.80,347.98 92.90,347.99 99.30,347.99 99.40,347.98 99.50,347.94 99.60,347.87 99.70,347.73 99.80,347.50 99.90,347.18 100.00,346.79 100.10,346.40 100.20,346.11 100.30,346.00 100.40,346.11 100.50,346.40 100.60,346.79 100.70,347.18 100.80,347.50 100.90,347.73 101.00,347.87 101.10,347.94 101.20,347.98 101.30,347.99 109.20,347.98 109.30,347.96 109.40,347.92 109.50,347.85 109.60,347.75 109.70,347.64 109.80,347.52 109.90,347.43 110.00,347.40 110.10,347.43 110.20,347.52 110.30,347.64 110.40,347.75 110.50,347.85 110.60,347.92 110.70,347.96 110.80,347.98 124.90,348.00 125.00,347.95 125.10,347.94 125.20,347.94 125.30,347.93 125.40,347.93 125.50,347.92 125.60,347.92 125.70,347.91 125.80,347.90 125.90,347.89 126.00,347.88 126.10,347.87 126.20,347.86 126.30,347.84 126.40,347.82 126.50,347.80 126.60,347.77 126.70,347.73 126.80,347.66 126.90,347.52 127.00,347.23 127.10,346.63 127.20,345.40 127.30,343.09 127.40,339.08 127.50,332.76 127.60,323.74 127.70,312.11 127.80,298.50 127.90,283.23 128.00,264.02 128.10,246.70 128.20,264.02 128.30,283.23 128.40,298.50 128.50,312.11 128.60,323.74 128.70,332.76 128.80,339.08 128.90,343.09 129.00,345.40 129.10,346.63 129.20,347.23 129.30,347.52 129.40,347.65 129.50,347.72 129.60,347.74 129.70,347.71 129.80,347.63 129.90,347.44 130.00,347.11 130.10,346.64 130.20,346.07 130.30,345.49 130.40,345.07 130.50,344.91 130.60,345.08 130.70,345.52 130.80,346.11 130.90,346.70 131.00,347.19 131.10,347.54 131.20,347.75 131.30,347.91 131.40,347.97 131.50,347.99 132.00,347.99 132.10,347.97 132.20,347.93 132.30,347.84 132.40,347.66 132.50,347.38 132.60,346.97 132.70,346.48 132.80,346.00 132.90,345.64 133.00,345.50 133.10,345.64 133.20,346.00 133.30,346.48 133.40,346.97 133.50,347.38 133.60,347.66 133.70,347.84 133.80,347.93 133.90,347.97 134.00,347.93 134.10,347.91 134.20,347.86 134.30,347.76 134.40,347.54 134.50,347.13 134.60,346.41 134.70,345.29 134.80,343.69 134.90,341.62 135.00,339.20 135.10,336.49 135.20,333.08 135.30,330.00 135.40,333.08 135.50,336.49 135.60,339.20 135.70,341.62 135.80,343.69 135.90,345.29 136.00,346.41 136.10,347.13 136.20,347.54 136.30,347.76 136.40,347.86 136.50,347.91 136.60,347.94 136.70,348.00 159.20,347.98 159.30,347.96 159.40,347.92 159.50,347.85 159.60,347.75 159.70,347.64 159.80,347.52 159.90,347.43 160.00,347.40 160.10,347.43 160.20,347.52 160.30,347.64 160.40,347.75 160.50,347.85 160.60,347.92 160.70,347.96 160.80,347.98 178.50,348.00 178.60,347.95 178.70,347.94 178.80,347.94 178.90,347.94 179.00,347.93 179.10,347.93 179.20,347.92 179.30,347.92 179.40,347.91 179.50,347.90 179.60,347.89 179.70,347.88 179.80,347.87 179.90,347.86 180.00,347.84 180.10,347.82 180.20,347.80 180.30,347.78 180.40,347.74 180.50,347.70 180.60,347.62 180.70,347.46 180.80,347.14 180.90,346.47 181.00,345.10 181.10,342.52 181.20,338.05 181.30,331.00 181.40,320.94 181.50,307.97 181.60,292.78 181.70,275.75 181.80,254.32 181.90,235.00 182.00,254.32 182.10,275.75 182.20,292.78 182.30,307.97 182.40,320.94 182.50,331.00 182.60,338.05 182.70,342.52 182.80,345.10 182.90,346.47 183.00,347.14 183.10,347.46 183.20,347.62 183.30,347.70 183.40,347.74 183.50,347.78 183.60,347.80 183.70,347.82 183.80,347.84 183.90,347.86 184.00,347.87 184.10,347.88 184.20,347.89 184.30,347.90 184.40,347.91 184.50,347.92 184.60,347.92 184.70,347.93 184.80,347.88 184.90,347.88 185.00,347.87 185.10,347.87 185.20,347.86 185.30,347.89 185.40,347.84 185.50,347.74 185.60,347.54 185.70,347.13 185.80,346.37 185.90,345.03 186.00,342.93 186.10,339.93 186.20,336.06 186.30,331.53 186.40,326.45 186.50,320.06 186.60,314.30 186.70,320.06 186.80,326.45 186.90,331.53 187.00,336.06 187.10,339.93 187.20,342.93 187.30,345.03 187.40,346.37 187.50,347.13 187.60,347.54 187.70,347.74 187.80,347.84 187.90,347.89 188.00,347.91 188.10,347.92 188.20,347.92 188.30,347.89 188.40,347.81 188.50,347.65 188.60,347.18 188.70,346.32 188.80,344.91 188.90,342.90 189.00,340.48 189.10,338.07 189.20,336.27 189.30,335.60 189.40,336.27 189.50,338.07 189.60,340.48 189.70,342.90 189.80,344.91 189.90,346.32 190.00,347.18 190.10,347.65 190.20,347.86 190.30,347.95 190.40,347.99 191.00,347.99 191.10,347.98 191.20,347.94 191.30,347.87 191.40,347.73 191.50,347.50 191.60,347.18 191.70,346.79 191.80,346.40 191.90,346.11 192.00,346.00 192.10,346.11 192.20,346.40 192.30,346.79 192.40,347.18 192.50,347.50 192.60,347.73 192.70,347.87 192.80,347.94 192.90,347.98 193.00,347.99 219.20,347.98 219.30,347.96 219.40,347.92 219.50,347.85 219.60,347.75 219.70,347.64 219.80,347.52 219.90,347.43 220.00,347.40 220.10,347.43 220.20,347.52 220.30,347.64 220.40,347.75 220.50,347.85 220.60,347.92 220.70,347.96 220.80,347.98 238.40,348.00 238.50,347.95 238.60,347.94 238.70,347.94 238.80,347.93 238.90,347.91 239.00,347.89 239.10,347.85 239.20,347.75 239.30,347.56 239.40,347.17 239.50,346.42 239.60,345.09 239.70,343.05 239.80,340.16 239.90,336.42 240.00,332.05 240.10,327.15 240.20,320.98 240.30,315.41 240.40,320.96 240.50,327.12 240.60,332.01 240.70,336.36 240.80,340.08 240.90,342.96 241.00,344.97 241.10,346.24 241.20,346.95 241.30,347.31 241.40,347.46 241.50,347.48 241.60,347.38 241.70,347.10 241.80,346.46 241.90,345.17 242.00,342.71 242.10,338.46 242.20,331.78 242.30,322.18 242.40,309.81 242.50,295.32 242.60,279.07 242.70,258.63 242.80,240.20 242.90,258.63 243.00,279.07 243.10,295.32 243.20,309.81 243.30,322.18 243.40,331.76 243.50,338.45 243.60,342.63 243.70,344.92 243.80,345.89 243.90,345.99 244.00,345.51 244.10,344.72 244.20,343.87 244.30,343.22 244.40,342.99 244.50,343.27 244.60,343.99 244.70,344.94 244.80,345.89 244.90,346.68 245.00,347.24 245.10,347.58 245.20,347.77 245.30,347.86 245.40,347.90 245.50,347.91 245.60,347.91 245.70,347.88 245.80,347.81 245.90,347.67 246.00,347.45 246.10,347.18 246.20,346.79 246.30,346.40 246.40,346.11 246.50,346.00 246.60,346.11 246.70,346.40 246.80,346.79 246.90,347.18 247.00,347.50 247.10,347.73 247.20,347.87 247.30,347.94 247.40,347.98 247.50,347.99 269.20,347.98 269.30,347.96 269.40,347.92 269.50,347.85 269.60,347.75 269.70,347.64 269.80,347.52 269.90,347.43 270.00,347.40 270.10,347.43 270.20,347.52 270.30,347.64 270.40,347.75 270.50,347.85 270.60,347.92 270.70,347.96 270.80,347.98 300.40,348.00 300.50,347.95 300.60,347.94 300.70,347.94 300.80,347.93 300.90,347.93 301.00,347.92 301.10,347.91 301.20,347.90 301.30,347.89 301.40,347.88 301.50,347.86 301.60,347.84 301.70,347.81 301.80,347.76 301.90,347.66 302.00,347.46 302.10,347.03 302.20,346.17 302.30,344.54 302.40,341.71 302.50,337.26 302.60,330.90 302.70,322.71 302.80,313.11 302.90,302.35 303.00,288.81 303.10,276.60 303.20,288.81 303.30,302.35 303.40,313.11 303.50,322.71 303.60,330.90 303.70,337.26 303.80,341.71 303.90,344.54 304.00,346.17 304.10,347.03 304.20,347.46 304.30,347.66 304.40,347.76 304.50,347.81 304.60,347.84 304.70,347.86 304.80,347.88 304.90,347.89 305.00,347.90 305.10,347.91 305.20,347.92 305.30,347.93 305.40,347.93 305.50,347.94 305.60,347.94 305.70,347.95 305.80,347.99 305.90,347.98 306.00,347.95 306.10,347.86 306.20,347.68 306.30,347.35 306.40,346.80 306.50,346.03 306.60,345.09 306.70,344.16 306.80,343.46 306.90,343.20 307.00,343.46 307.10,344.16 307.20,345.09 307.30,346.03 307.40,346.80 307.50,347.35 307.60,347.68 307.70,347.86 307.80,347.95 307.90,347.98 308.00,347.99 308.10,347.98 308.20,347.96 308.30,347.90 308.40,347.80 308.50,347.63 308.60,347.38 308.70,347.09 308.80,346.80 308.90,346.58 309.00,346.50 309.10,346.58 309.20,346.80 309.30,347.09 309.40,347.38 309.50,347.63 309.60,347.80 309.70,347.90 309.80,347.96 309.90,347.98 327.80,348.00" fill="none" stroke="#222" stroke-width="0.65" stroke-linejoin="round"/>
<line x1="52.90" y1="239.40" x2="52.90" y2="348.50" stroke="#555" stroke-width="1"/>
<line x1="46.60" y1="251.70" x2="52.90" y2="251.70" stroke="#333" stroke-width="1"/>
<path transform="translate(21.31,256.70) scale(0.00791,-0.00791)" d="M763 0L583 0L583 1147Q518 1085 412 1023Q306 961 222 930L222 1104Q373 1175 486 1276Q599 1377 646 1466L763 1466Z" fill="#111"/>
<text x="21.31" y="256.70" font-size="16.2" font-weight="normal" font-style="normal" fill="#111" > .0</text>
<line x1="46.60" y1="300.10" x2="52.90" y2="300.10" stroke="#333" stroke-width="1"/>
<text x="21.36" y="305.00" font-size="16.2" font-weight="normal" font-style="normal" fill="#111" >0.5</text>
<line x1="46.60" y1="348.00" x2="52.90" y2="348.00" stroke="#333" stroke-width="1"/>
<text x="33.72" y="352.50" font-size="16.2" font-weight="normal" font-style="normal" fill="#111" >0</text>
<line x1="53.00" y1="351.40" x2="327.70" y2="351.40" stroke="#666" stroke-width="1"/>
<line x1="53.00" y1="351.40" x2="53.00" y2="356.70" stroke="#666" stroke-width="1"/>
<line x1="107.90" y1="351.40" x2="107.90" y2="356.70" stroke="#666" stroke-width="1"/>
<line x1="162.80" y1="351.40" x2="162.80" y2="356.70" stroke="#666" stroke-width="1"/>
<line x1="217.80" y1="351.40" x2="217.80" y2="356.70" stroke="#666" stroke-width="1"/>
<line x1="272.70" y1="351.40" x2="272.70" y2="356.70" stroke="#666" stroke-width="1"/>
<line x1="327.70" y1="351.40" x2="327.70" y2="356.70" stroke="#666" stroke-width="1"/>
<text x="31.76" y="373.20" font-size="16.2" font-weight="normal" font-style="normal" fill="#111" >4,200</text>
<text x="86.76" y="373.20" font-size="16.2" font-weight="normal" font-style="normal" fill="#111" >4,400</text>
<text x="141.66" y="373.20" font-size="16.2" font-weight="normal" font-style="normal" fill="#111" >4,600</text>
<text x="197.36" y="373.20" font-size="16.2" font-weight="normal" font-style="normal" fill="#111" >4,800</text>
<text x="252.12" y="373.20" font-size="16.2" font-weight="normal" font-style="normal" fill="#111" >5,000</text>
<text x="306.92" y="373.20" font-size="16.2" font-weight="normal" font-style="normal" fill="#111" >5,200</text>
<text x="175.59" y="386.40" font-size="16" font-weight="normal" font-style="italic" fill="#111" >m/z</text>
<text transform="translate(13.10,341.60) rotate(-90)" x="0" y="0" font-size="16.3" fill="#111">Intensity (e6)</text>
<text x="7.79" y="212.50" font-size="15.3" font-weight="bold" font-style="normal" fill="#000" >b</text>
<text x="52.00" y="212.50" font-size="16.3" font-weight="normal" font-style="italic" fill="#111" >L. maxima</text>
<text x="68.74" y="299.20" font-size="13.5" font-weight="normal" font-style="normal" fill="#111" >25+</text>
<text x="95.39" y="241.90" font-size="13.5" font-weight="normal" font-style="normal" fill="#111" >24+</text>
<text x="192.44" y="230.10" font-size="13.5" font-weight="normal" font-style="normal" fill="#111" >23+</text>
<text x="194.74" y="291.70" font-size="13.5" font-weight="normal" font-style="normal" fill="#111" >24+</text>
<text x="215.69" y="289.20" font-size="13.5" font-weight="normal" font-style="normal" fill="#111" >22+</text>
<text x="234.29" y="220.10" font-size="13.5" font-weight="normal" font-style="normal" fill="#111" >23+</text>
<text x="293.19" y="257.30" font-size="13.5" font-weight="normal" font-style="normal" fill="#111" >22+</text>
<line x1="195.10" y1="305.00" x2="189.39" y2="311.03" stroke="#111" stroke-width="1.1"/>
<polygon points="186.30,314.30 187.85,308.88 191.63,312.46" fill="#111"/>
<line x1="228.30" y1="303.00" x2="236.59" y2="311.15" stroke="#111" stroke-width="1.1"/>
<polygon points="239.80,314.30 234.41,312.65 238.06,308.94" fill="#111"/>
<circle cx="77.10" cy="309.20" r="2.2" fill="#468a2c" stroke="#1c4c14" stroke-width="1.1"/>
<circle cx="81.10" cy="309.20" r="2.2" fill="#468a2c" stroke="#1c4c14" stroke-width="1.1"/>
<circle cx="74.95" cy="314.00" r="2.2" fill="#468a2c" stroke="#1c4c14" stroke-width="1.1"/>
<circle cx="83.25" cy="314.00" r="2.2" fill="#468a2c" stroke="#1c4c14" stroke-width="1.1"/>
<circle cx="77.10" cy="318.80" r="2.2" fill="#468a2c" stroke="#1c4c14" stroke-width="1.1"/>
<circle cx="81.10" cy="318.80" r="2.2" fill="#468a2c" stroke="#1c4c14" stroke-width="1.1"/>
<circle cx="126.90" cy="233.90" r="2.2" fill="#468a2c" stroke="#1c4c14" stroke-width="1.1"/>
<circle cx="130.90" cy="233.90" r="2.2" fill="#468a2c" stroke="#1c4c14" stroke-width="1.1"/>
<circle cx="124.75" cy="238.70" r="2.2" fill="#468a2c" stroke="#1c4c14" stroke-width="1.1"/>
<circle cx="133.05" cy="238.70" r="2.2" fill="#468a2c" stroke="#1c4c14" stroke-width="1.1"/>
<circle cx="126.90" cy="243.50" r="2.2" fill="#468a2c" stroke="#1c4c14" stroke-width="1.1"/>
<circle cx="130.90" cy="243.50" r="2.2" fill="#468a2c" stroke="#1c4c14" stroke-width="1.1"/>
<circle cx="179.80" cy="222.50" r="2.2" fill="#468a2c" stroke="#1c4c14" stroke-width="1.1"/>
<circle cx="183.80" cy="222.50" r="2.2" fill="#468a2c" stroke="#1c4c14" stroke-width="1.1"/>
<circle cx="177.65" cy="227.30" r="2.2" fill="#468a2c" stroke="#1c4c14" stroke-width="1.1"/>
<circle cx="185.95" cy="227.30" r="2.2" fill="#468a2c" stroke="#1c4c14" stroke-width="1.1"/>
<circle cx="179.80" cy="232.10" r="2.2" fill="#468a2c" stroke="#1c4c14" stroke-width="1.1"/>
<circle cx="183.80" cy="232.10" r="2.2" fill="#468a2c" stroke="#1c4c14" stroke-width="1.1"/>
<circle cx="200.20" cy="295.20" r="2.2" fill="#2d6e98" stroke="#173f5f" stroke-width="1.1"/>
<circle cx="204.20" cy="295.20" r="2.2" fill="#2d6e98" stroke="#173f5f" stroke-width="1.1"/>
<circle cx="198.05" cy="300.00" r="2.2" fill="#2d6e98" stroke="#173f5f" stroke-width="1.1"/>
<circle cx="206.35" cy="300.00" r="2.2" fill="#2d6e98" stroke="#173f5f" stroke-width="1.1"/>
<circle cx="200.20" cy="304.80" r="2.2" fill="#2d6e98" stroke="#173f5f" stroke-width="1.1"/>
<circle cx="204.20" cy="304.80" r="2.2" fill="#2d6e98" stroke="#173f5f" stroke-width="1.1"/>
<circle cx="220.00" cy="293.20" r="2.2" fill="#468a2c" stroke="#1c4c14" stroke-width="1.1"/>
<circle cx="224.00" cy="293.20" r="2.2" fill="#468a2c" stroke="#1c4c14" stroke-width="1.1"/>
<circle cx="217.85" cy="298.00" r="2.2" fill="#468a2c" stroke="#1c4c14" stroke-width="1.1"/>
<circle cx="226.15" cy="298.00" r="2.2" fill="#468a2c" stroke="#1c4c14" stroke-width="1.1"/>
<circle cx="220.00" cy="302.80" r="2.2" fill="#468a2c" stroke="#1c4c14" stroke-width="1.1"/>
<circle cx="224.00" cy="302.80" r="2.2" fill="#468a2c" stroke="#1c4c14" stroke-width="1.1"/>
<circle cx="240.70" cy="227.70" r="2.2" fill="#2d6e98" stroke="#173f5f" stroke-width="1.1"/>
<circle cx="244.70" cy="227.70" r="2.2" fill="#2d6e98" stroke="#173f5f" stroke-width="1.1"/>
<circle cx="238.55" cy="232.50" r="2.2" fill="#2d6e98" stroke="#173f5f" stroke-width="1.1"/>
<circle cx="246.85" cy="232.50" r="2.2" fill="#2d6e98" stroke="#173f5f" stroke-width="1.1"/>
<circle cx="240.70" cy="237.30" r="2.2" fill="#2d6e98" stroke="#173f5f" stroke-width="1.1"/>
<circle cx="244.70" cy="237.30" r="2.2" fill="#2d6e98" stroke="#173f5f" stroke-width="1.1"/>
<circle cx="301.10" cy="265.00" r="2.2" fill="#2d6e98" stroke="#173f5f" stroke-width="1.1"/>
<circle cx="305.10" cy="265.00" r="2.2" fill="#2d6e98" stroke="#173f5f" stroke-width="1.1"/>
<circle cx="298.95" cy="269.80" r="2.2" fill="#2d6e98" stroke="#173f5f" stroke-width="1.1"/>
<circle cx="307.25" cy="269.80" r="2.2" fill="#2d6e98" stroke="#173f5f" stroke-width="1.1"/>
<circle cx="301.10" cy="274.60" r="2.2" fill="#2d6e98" stroke="#173f5f" stroke-width="1.1"/>
<circle cx="305.10" cy="274.60" r="2.2" fill="#2d6e98" stroke="#173f5f" stroke-width="1.1"/>
<path d="M392.60 348.25H404.70 M405.90 348.25H421.31 M422.91 348.25H451.32 M452.52 348.25H470.23 M472.43 348.25H475.23 M477.23 348.25H486.93 M488.44 348.25H505.84 M507.14 348.25H524.25 M528.95 348.25H529.25 M530.65 348.25H558.76 M560.26 348.25H582.27 M584.97 348.25H585.27 M586.67 348.25H616.88 M618.08 348.25H632.49 M633.59 348.25H643.89 M645.89 348.25H646.29 M647.69 348.25H666.50" stroke="#111" stroke-width="1.3" fill="none"/>
<polyline points="392.60,348.40 404.40,348.38 404.50,348.36 404.60,348.30 404.70,348.19 404.80,348.02 404.90,347.77 405.00,347.48 405.11,347.19 405.20,346.97 405.30,346.90 405.31,346.90 405.40,346.99 405.50,347.21 405.61,347.51 405.70,347.80 405.81,348.04 405.90,348.20 406.00,348.31 406.11,348.36 406.20,348.38 421.01,348.39 421.11,348.37 421.21,348.32 421.31,348.19 421.41,347.92 421.51,347.42 421.61,346.63 421.71,345.51 421.81,344.19 421.91,342.91 422.01,341.99 422.10,341.70 422.11,341.70 422.21,342.14 422.31,343.17 422.41,344.49 422.51,345.78 422.61,346.83 422.71,347.56 422.81,348.00 422.91,348.23 423.01,348.33 423.11,348.38 423.21,348.39 450.92,348.39 451.02,348.37 451.12,348.33 451.22,348.25 451.32,348.09 451.42,347.84 451.52,347.50 451.62,347.10 451.72,346.72 451.82,346.47 451.90,346.40 451.92,346.41 452.02,346.56 452.12,346.88 452.22,347.28 452.32,347.66 452.42,347.96 452.52,348.17 452.62,348.29 452.72,348.35 452.82,348.38 469.53,348.40 469.63,348.34 469.73,348.34 469.83,348.33 469.93,348.31 470.03,348.29 470.13,348.23 470.23,348.12 470.33,347.90 470.43,347.44 470.53,346.60 470.63,345.19 470.73,342.99 470.83,339.97 470.93,336.18 471.03,331.85 471.13,326.93 471.23,320.47 471.30,317.20 471.33,317.88 471.43,324.46 471.53,329.88 471.63,334.42 471.73,338.46 471.83,341.82 471.93,344.35 472.03,346.08 472.13,347.14 472.23,347.74 472.33,348.05 472.43,348.20 472.53,348.27 472.63,348.30 472.73,348.32 472.83,348.33 472.93,348.34 473.03,348.35 473.13,348.40 474.73,348.40 474.83,348.34 474.93,348.32 475.03,348.29 475.13,348.21 475.23,348.06 475.33,347.75 475.43,347.18 475.53,346.21 475.63,344.74 475.73,342.70 475.83,340.15 475.93,337.23 476.03,333.91 476.13,329.55 476.20,327.40 476.23,327.92 476.33,332.37 476.43,336.00 476.53,339.05 476.63,341.76 476.73,344.01 476.83,345.70 476.93,346.85 477.03,347.56 477.13,347.96 477.23,348.16 477.33,348.26 477.43,348.31 477.53,348.33 477.63,348.35 477.73,348.40 486.63,348.39 486.73,348.37 486.83,348.31 486.93,348.18 487.03,347.92 487.13,347.45 487.24,346.72 487.33,345.73 487.44,344.61 487.54,343.59 487.63,342.93 487.70,342.80 487.74,342.84 487.83,343.34 487.94,344.28 488.04,345.40 488.13,346.44 488.24,347.26 488.33,347.80 488.44,348.12 488.54,348.28 488.63,348.36 488.74,348.39 505.54,348.39 505.64,348.37 505.74,348.32 505.84,348.22 505.94,348.05 506.04,347.78 506.14,347.42 506.24,347.02 506.34,346.66 506.44,346.44 506.50,346.40 506.54,346.42 506.64,346.61 506.74,346.96 506.84,347.36 506.94,347.72 507.04,348.01 507.14,348.20 507.24,348.31 507.34,348.36 507.44,348.39 523.55,348.40 523.65,348.34 523.75,348.34 523.85,348.33 523.95,348.31 524.05,348.28 524.15,348.22 524.25,348.10 524.35,347.85 524.45,347.29 524.55,346.38 524.65,344.87 524.75,342.60 524.85,339.52 524.95,335.74 525.05,331.45 525.15,326.49 525.25,320.01 525.30,318.10 525.35,319.75 525.45,326.30 525.55,331.27 525.65,335.56 525.75,339.34 525.85,342.42 525.95,344.69 526.05,346.18 526.15,347.07 526.25,347.53 526.35,347.69 526.45,347.61 526.55,347.25 526.65,346.40 526.75,344.70 526.85,341.59 526.95,336.43 527.05,328.72 527.15,318.18 527.25,305.25 527.35,290.60 527.45,273.64 527.55,251.48 527.60,245.20 527.65,251.05 527.75,273.25 527.85,290.29 527.95,304.97 528.05,317.94 528.15,328.54 528.25,336.42 528.35,341.61 528.45,344.75 528.55,346.48 528.65,347.36 528.75,347.79 528.85,347.99 528.95,348.08 529.05,348.13 529.15,348.13 529.25,348.08 529.35,347.94 529.45,347.69 529.55,347.29 529.65,346.76 529.75,346.17 529.85,345.65 529.95,345.35 530.00,345.31 530.05,345.35 530.15,345.67 530.25,346.21 530.35,346.81 530.45,347.36 530.55,347.78 530.65,348.06 530.75,348.22 530.85,348.35 530.95,348.38 558.46,348.38 558.56,348.35 558.66,348.27 558.76,348.09 558.86,347.73 558.96,347.11 559.06,346.17 559.16,344.97 559.26,343.67 559.36,342.56 559.46,341.95 559.50,341.90 559.56,342.03 559.66,342.77 559.76,343.95 559.86,345.25 559.96,346.40 560.06,347.27 560.16,347.83 560.26,348.14 560.36,348.29 560.46,348.36 560.56,348.39 580.27,348.40 580.37,348.35 580.47,348.35 580.57,348.34 580.67,348.34 580.77,348.33 580.87,348.33 580.97,348.32 581.07,348.32 581.17,348.31 581.27,348.30 581.37,348.29 581.47,348.28 581.57,348.27 581.67,348.26 581.77,348.24 581.87,348.22 581.97,348.20 582.07,348.17 582.17,348.13 582.27,348.07 582.37,347.95 582.47,347.71 582.57,347.20 582.67,346.15 582.77,344.13 582.87,340.52 582.97,334.59 583.07,325.94 583.17,314.44 583.27,300.60 583.37,285.06 583.47,266.52 583.57,243.87 583.60,241.40 583.67,252.37 583.77,274.57 583.87,291.48 583.97,306.36 584.07,319.36 584.17,329.75 584.27,337.26 584.37,342.16 584.47,345.07 584.57,346.65 584.67,347.44 584.77,347.82 584.87,348.00 584.97,348.09 585.07,348.13 585.17,348.13 585.27,348.08 585.37,347.95 585.47,347.72 585.57,347.37 585.67,346.91 585.77,346.42 585.87,346.02 585.97,345.82 586.00,345.81 586.07,345.88 586.17,346.19 586.27,346.66 586.37,347.17 586.47,347.61 586.57,347.93 586.67,348.14 586.77,348.25 586.87,348.31 586.97,348.39 616.58,348.38 616.68,348.35 616.78,348.29 616.88,348.16 616.98,347.95 617.08,347.64 617.18,347.26 617.28,346.86 617.38,346.55 617.48,346.40 617.50,346.40 617.58,346.47 617.68,346.74 617.78,347.11 617.88,347.51 617.98,347.85 618.08,348.10 618.18,348.25 618.28,348.33 618.38,348.37 618.48,348.39 632.09,348.39 632.19,348.36 632.29,348.31 632.39,348.21 632.49,348.05 632.59,347.82 632.69,347.53 632.79,347.23 632.89,347.00 632.99,346.90 633.00,346.90 633.09,346.96 633.19,347.17 633.29,347.45 633.39,347.75 633.49,348.00 633.59,348.18 633.69,348.29 633.79,348.35 633.89,348.38 643.39,348.40 643.49,348.35 643.59,348.33 643.69,348.31 643.79,348.25 643.89,348.14 643.99,347.91 644.09,347.46 644.19,346.69 644.29,345.47 644.39,343.70 644.49,341.41 644.59,338.71 644.69,335.68 644.79,331.93 644.89,328.14 644.90,328.10 644.99,331.20 645.09,335.15 645.19,338.25 645.29,341.00 645.39,343.37 645.49,345.22 645.59,346.53 645.69,347.37 645.79,347.85 645.89,348.11 645.99,348.23 646.09,348.27 646.19,348.25 646.29,348.16 646.39,348.01 646.49,347.68 646.59,347.20 646.69,346.62 646.79,346.04 646.89,345.58 646.99,345.40 647.00,345.40 647.09,345.54 647.19,345.96 647.29,346.54 647.39,347.13 647.49,347.62 647.59,347.97 647.69,348.19 647.79,348.31 647.89,348.36 647.99,348.39 666.50,348.40" fill="none" stroke="#222" stroke-width="0.65" stroke-linejoin="round"/>
<line x1="392.60" y1="239.70" x2="392.60" y2="348.90" stroke="#555" stroke-width="1"/>
<line x1="387.00" y1="274.20" x2="392.60" y2="274.20" stroke="#333" stroke-width="1"/>
<text x="360.71" y="279.30" font-size="16.2" font-weight="normal" font-style="normal" fill="#111" >5.0</text>
<line x1="387.00" y1="310.60" x2="392.60" y2="310.60" stroke="#333" stroke-width="1"/>
<text x="360.76" y="315.70" font-size="16.2" font-weight="normal" font-style="normal" fill="#111" >2.5</text>
<line x1="387.00" y1="348.70" x2="392.60" y2="348.70" stroke="#333" stroke-width="1"/>
<text x="376.32" y="353.00" font-size="16.2" font-weight="normal" font-style="normal" fill="#111" >0</text>
<line x1="391.40" y1="351.40" x2="666.50" y2="351.40" stroke="#666" stroke-width="1"/>
<line x1="391.40" y1="351.40" x2="391.40" y2="356.70" stroke="#666" stroke-width="1"/>
<line x1="446.30" y1="351.40" x2="446.30" y2="356.70" stroke="#666" stroke-width="1"/>
<line x1="501.40" y1="351.40" x2="501.40" y2="356.70" stroke="#666" stroke-width="1"/>
<line x1="556.60" y1="351.40" x2="556.60" y2="356.70" stroke="#666" stroke-width="1"/>
<line x1="611.60" y1="351.40" x2="611.60" y2="356.70" stroke="#666" stroke-width="1"/>
<line x1="666.50" y1="351.40" x2="666.50" y2="356.70" stroke="#666" stroke-width="1"/>
<text x="370.86" y="372.60" font-size="16.2" font-weight="normal" font-style="normal" fill="#111" >4,200</text>
<text x="425.96" y="372.60" font-size="16.2" font-weight="normal" font-style="normal" fill="#111" >4,400</text>
<text x="480.46" y="372.60" font-size="16.2" font-weight="normal" font-style="normal" fill="#111" >4,600</text>
<text x="535.96" y="372.60" font-size="16.2" font-weight="normal" font-style="normal" fill="#111" >4,800</text>
<text x="590.72" y="372.60" font-size="16.2" font-weight="normal" font-style="normal" fill="#111" >5,000</text>
<text x="643.12" y="372.60" font-size="16.2" font-weight="normal" font-style="normal" fill="#111" >5,200</text>
<text x="513.89" y="385.80" font-size="16" font-weight="normal" font-style="italic" fill="#111" >m/z</text>
<text transform="translate(351.90,341.60) rotate(-90)" x="0" y="0" font-size="16.3" fill="#111">Intensity (e5)</text>
<text x="347.60" y="212.50" font-size="15.3" font-weight="bold" font-style="normal" fill="#000" >e</text>
<text x="390.50" y="212.50" font-size="16.3" font-weight="normal" font-style="italic" fill="#111" >G. lithophora</text>
<text x="415.84" y="319.30" font-size="13.5" font-weight="normal" font-style="normal" fill="#111" >25+</text>
<text x="451.09" y="280.80" font-size="13.5" font-weight="normal" font-style="normal" fill="#111" >24+</text>
<text x="478.99" y="290.20" font-size="13.5" font-weight="normal" font-style="normal" fill="#111" >25+</text>
<text x="505.04" y="286.60" font-size="13.5" font-weight="normal" font-style="normal" fill="#111" >23+</text>
<text x="537.19" y="240.20" font-size="13.5" font-weight="normal" font-style="normal" fill="#111" >24+</text>
<text x="574.24" y="220.60" font-size="13.5" font-weight="normal" font-style="normal" fill="#111" >23+</text>
<text x="638.19" y="310.50" font-size="13.5" font-weight="normal" font-style="normal" fill="#111" >22+</text>
<line x1="464.60" y1="299.20" x2="469.00" y2="310.03" stroke="#111" stroke-width="1.1"/>
<polygon points="470.70,314.20 466.41,310.55 471.22,308.59" fill="#111"/>
<line x1="481.40" y1="309.00" x2="478.09" y2="321.06" stroke="#111" stroke-width="1.1"/>
<polygon points="476.90,325.40 475.72,319.89 480.73,321.27" fill="#111"/>
<line x1="518.30" y1="300.90" x2="523.06" y2="311.49" stroke="#111" stroke-width="1.1"/>
<polygon points="524.90,315.60 520.48,312.10 525.22,309.97" fill="#111"/>
<circle cx="420.10" cy="328.20" r="2.2" fill="#468a2c" stroke="#1c4c14" stroke-width="1.1"/>
<circle cx="424.10" cy="328.20" r="2.2" fill="#468a2c" stroke="#1c4c14" stroke-width="1.1"/>
<circle cx="417.95" cy="333.00" r="2.2" fill="#468a2c" stroke="#1c4c14" stroke-width="1.1"/>
<circle cx="426.25" cy="333.00" r="2.2" fill="#468a2c" stroke="#1c4c14" stroke-width="1.1"/>
<circle cx="420.10" cy="337.80" r="2.2" fill="#468a2c" stroke="#1c4c14" stroke-width="1.1"/>
<circle cx="424.10" cy="337.80" r="2.2" fill="#468a2c" stroke="#1c4c14" stroke-width="1.1"/>
<circle cx="456.50" cy="289.50" r="2.2" fill="#468a2c" stroke="#1c4c14" stroke-width="1.1"/>
<circle cx="460.50" cy="289.50" r="2.2" fill="#468a2c" stroke="#1c4c14" stroke-width="1.1"/>
<circle cx="454.35" cy="294.30" r="2.2" fill="#468a2c" stroke="#1c4c14" stroke-width="1.1"/>
<circle cx="462.65" cy="294.30" r="2.2" fill="#468a2c" stroke="#1c4c14" stroke-width="1.1"/>
<circle cx="456.50" cy="299.10" r="2.2" fill="#468a2c" stroke="#1c4c14" stroke-width="1.1"/>
<circle cx="460.50" cy="299.10" r="2.2" fill="#468a2c" stroke="#1c4c14" stroke-width="1.1"/>
<circle cx="481.40" cy="294.60" r="2.2" fill="#2d6e98" stroke="#173f5f" stroke-width="1.1"/>
<circle cx="485.40" cy="294.60" r="2.2" fill="#2d6e98" stroke="#173f5f" stroke-width="1.1"/>
<circle cx="479.25" cy="299.40" r="2.2" fill="#2d6e98" stroke="#173f5f" stroke-width="1.1"/>
<circle cx="487.55" cy="299.40" r="2.2" fill="#2d6e98" stroke="#173f5f" stroke-width="1.1"/>
<circle cx="481.40" cy="304.20" r="2.2" fill="#2d6e98" stroke="#173f5f" stroke-width="1.1"/>
<circle cx="485.40" cy="304.20" r="2.2" fill="#2d6e98" stroke="#173f5f" stroke-width="1.1"/>
<circle cx="510.20" cy="291.00" r="2.2" fill="#468a2c" stroke="#1c4c14" stroke-width="1.1"/>
<circle cx="514.20" cy="291.00" r="2.2" fill="#468a2c" stroke="#1c4c14" stroke-width="1.1"/>
<circle cx="508.05" cy="295.80" r="2.2" fill="#468a2c" stroke="#1c4c14" stroke-width="1.1"/>
<circle cx="516.35" cy="295.80" r="2.2" fill="#468a2c" stroke="#1c4c14" stroke-width="1.1"/>
<circle cx="510.20" cy="300.60" r="2.2" fill="#468a2c" stroke="#1c4c14" stroke-width="1.1"/>
<circle cx="514.20" cy="300.60" r="2.2" fill="#468a2c" stroke="#1c4c14" stroke-width="1.1"/>
<circle cx="525.10" cy="232.50" r="2.2" fill="#2d6e98" stroke="#173f5f" stroke-width="1.1"/>
<circle cx="529.10" cy="232.50" r="2.2" fill="#2d6e98" stroke="#173f5f" stroke-width="1.1"/>
<circle cx="522.95" cy="237.30" r="2.2" fill="#2d6e98" stroke="#173f5f" stroke-width="1.1"/>
<circle cx="531.25" cy="237.30" r="2.2" fill="#2d6e98" stroke="#173f5f" stroke-width="1.1"/>
<circle cx="525.10" cy="242.10" r="2.2" fill="#2d6e98" stroke="#173f5f" stroke-width="1.1"/>
<circle cx="529.10" cy="242.10" r="2.2" fill="#2d6e98" stroke="#173f5f" stroke-width="1.1"/>
<circle cx="581.60" cy="228.30" r="2.2" fill="#2d6e98" stroke="#173f5f" stroke-width="1.1"/>
<circle cx="585.60" cy="228.30" r="2.2" fill="#2d6e98" stroke="#173f5f" stroke-width="1.1"/>
<circle cx="579.45" cy="233.10" r="2.2" fill="#2d6e98" stroke="#173f5f" stroke-width="1.1"/>
<circle cx="587.75" cy="233.10" r="2.2" fill="#2d6e98" stroke="#173f5f" stroke-width="1.1"/>
<circle cx="581.60" cy="237.90" r="2.2" fill="#2d6e98" stroke="#173f5f" stroke-width="1.1"/>
<circle cx="585.60" cy="237.90" r="2.2" fill="#2d6e98" stroke="#173f5f" stroke-width="1.1"/>
<circle cx="642.40" cy="315.20" r="2.2" fill="#2d6e98" stroke="#173f5f" stroke-width="1.1"/>
<circle cx="646.40" cy="315.20" r="2.2" fill="#2d6e98" stroke="#173f5f" stroke-width="1.1"/>
<circle cx="640.25" cy="320.00" r="2.2" fill="#2d6e98" stroke="#173f5f" stroke-width="1.1"/>
<circle cx="648.55" cy="320.00" r="2.2" fill="#2d6e98" stroke="#173f5f" stroke-width="1.1"/>
<circle cx="642.40" cy="324.80" r="2.2" fill="#2d6e98" stroke="#173f5f" stroke-width="1.1"/>
<circle cx="646.40" cy="324.80" r="2.2" fill="#2d6e98" stroke="#173f5f" stroke-width="1.1"/>
<path d="M52.70 576.35H61.90 M63.30 576.35H75.50 M76.90 576.35H78.00 M79.40 576.35H85.10 M86.70 576.35H87.70 M89.10 576.35H94.20 M95.60 576.35H102.60 M104.20 576.35H107.50 M109.10 576.35H113.10 M114.70 576.35H121.10 M122.90 576.35H124.10 M126.40 576.35H127.30 M134.30 576.35H134.90 M140.40 576.35H143.70 M145.10 576.35H146.20 M147.60 576.35H148.20 M149.60 576.35H152.90 M154.30 576.35H162.90 M164.30 576.35H172.20 M173.60 576.35H174.30 M176.70 576.35H177.10 M195.30 576.35H196.10 M197.50 576.35H198.20 M199.80 576.35H200.40 M201.80 576.35H202.90 M204.30 576.35H220.70 M222.10 576.35H232.10 M233.70 576.35H235.40 M237.60 576.35H238.90 M249.90 576.35H250.80 M254.00 576.35H254.20 M255.80 576.35H256.20 M259.50 576.35H260.20 M261.80 576.35H262.50 M265.50 576.35H302.50 M305.60 576.35H308.50 M310.30 576.35H319.20 M320.60 576.35H328.20" stroke="#111" stroke-width="1.3" fill="none"/>
<polyline points="52.70,576.50 61.60,576.48 61.70,576.46 61.80,576.39 61.90,576.24 62.00,575.96 62.10,575.50 62.20,574.86 62.30,574.07 62.40,573.30 62.50,572.72 62.60,572.50 62.70,572.72 62.80,573.30 62.90,574.07 63.00,574.86 63.10,575.50 63.20,575.96 63.30,576.24 63.40,576.39 63.50,576.46 63.60,576.48 75.20,576.48 75.30,576.45 75.40,576.37 75.50,576.20 75.60,575.89 75.70,575.38 75.80,574.65 75.90,573.77 76.00,572.90 76.10,572.24 76.20,572.00 76.30,572.24 76.40,572.90 76.50,573.77 76.60,574.65 76.70,575.38 76.80,575.89 76.90,576.20 77.00,576.37 77.10,576.45 77.20,576.48 77.70,576.48 77.80,576.45 77.90,576.37 78.00,576.20 78.10,575.89 78.20,575.38 78.30,574.65 78.40,573.77 78.50,572.90 78.60,572.24 78.70,572.00 78.80,572.24 78.90,572.90 79.00,573.77 79.10,574.65 79.20,575.38 79.30,575.89 79.40,576.20 79.50,576.37 79.60,576.45 79.70,576.48 84.80,576.49 84.90,576.47 85.00,576.43 85.10,576.31 85.20,576.07 85.30,575.62 85.40,574.88 85.50,573.83 85.60,572.56 85.70,571.30 85.80,570.35 85.90,570.00 86.00,570.35 86.10,571.30 86.20,572.56 86.30,573.83 86.40,574.88 86.50,575.62 86.60,576.07 86.70,576.31 86.80,576.43 86.90,576.47 87.00,576.49 87.40,576.48 87.50,576.45 87.60,576.37 87.70,576.20 87.80,575.89 87.90,575.38 88.00,574.65 88.10,573.77 88.20,572.90 88.30,572.24 88.40,572.00 88.50,572.24 88.60,572.90 88.70,573.77 88.80,574.65 88.90,575.38 89.00,575.89 89.10,576.20 89.20,576.37 89.30,576.45 89.40,576.48 93.90,576.48 94.00,576.45 94.10,576.37 94.20,576.20 94.30,575.89 94.40,575.38 94.50,574.65 94.60,573.77 94.70,572.90 94.80,572.24 94.90,572.00 95.00,572.24 95.10,572.90 95.20,573.77 95.30,574.65 95.40,575.38 95.50,575.89 95.60,576.20 95.70,576.37 95.80,576.45 95.90,576.48 102.30,576.49 102.40,576.47 102.50,576.41 102.60,576.26 102.70,575.94 102.80,575.35 102.90,574.38 103.00,573.01 103.10,571.34 103.20,569.69 103.30,568.46 103.40,568.00 103.50,568.46 103.60,569.69 103.70,571.34 103.80,573.01 103.90,574.38 104.00,575.35 104.10,575.94 104.20,576.26 104.30,576.41 104.40,576.47 104.50,576.49 107.20,576.49 107.30,576.48 107.40,576.44 107.50,576.34 107.60,576.14 107.70,575.76 107.80,575.13 107.90,574.24 108.00,573.16 108.10,572.10 108.20,571.30 108.30,571.00 108.40,571.30 108.50,572.10 108.60,573.16 108.70,574.24 108.80,575.13 108.90,575.76 109.00,576.14 109.10,576.34 109.20,576.44 109.30,576.48 109.40,576.49 112.80,576.49 112.90,576.48 113.00,576.43 113.10,576.32 113.20,576.08 113.30,575.63 113.40,574.90 113.50,573.87 113.60,572.62 113.70,571.38 113.80,570.45 113.90,570.10 114.00,570.45 114.10,571.38 114.20,572.62 114.30,573.87 114.40,574.90 114.50,575.63 114.60,576.08 114.70,576.32 114.80,576.43 114.90,576.48 115.00,576.49 120.90,576.48 121.00,576.44 121.10,576.34 121.20,576.09 121.30,575.55 121.40,574.54 121.50,572.88 121.60,570.54 121.70,567.71 121.80,564.89 121.90,562.78 122.00,562.00 122.10,562.78 122.20,564.89 122.30,567.71 122.40,570.54 122.50,572.88 122.60,574.54 122.70,575.55 122.80,576.09 122.90,576.34 123.00,576.44 123.10,576.43 123.20,576.44 123.30,576.43 123.40,576.43 123.50,576.42 123.60,576.41 123.70,576.40 123.80,576.38 123.90,576.34 124.00,576.28 124.10,576.15 124.20,575.88 124.30,575.32 124.40,574.27 124.50,572.45 124.60,569.58 124.70,565.48 124.80,560.20 124.90,554.02 125.00,547.09 125.10,538.36 125.20,530.50 125.30,538.36 125.40,547.09 125.50,554.02 125.60,560.20 125.70,565.48 125.80,569.58 125.90,572.40 126.00,574.21 126.10,575.26 126.20,575.81 126.30,576.08 126.40,576.20 126.50,576.26 126.60,576.28 126.70,576.29 126.80,576.29 126.90,576.29 127.00,576.28 127.10,576.27 127.20,576.24 127.30,576.20 127.40,576.15 127.50,575.94 127.60,575.50 127.70,574.60 127.80,572.91 127.90,569.98 128.00,565.37 128.10,558.78 128.20,550.28 128.30,540.34 128.40,529.19 128.50,515.15 128.60,502.50 128.70,515.15 128.80,529.19 128.90,540.34 129.00,550.28 129.10,558.78 129.20,565.37 129.30,569.98 129.40,572.91 129.50,574.60 129.60,575.43 129.70,575.85 129.80,576.01 129.90,576.00 130.00,575.83 130.10,575.44 130.20,574.73 130.30,573.59 130.40,571.95 130.50,569.84 130.60,567.31 130.70,564.51 130.80,560.96 130.90,557.70 131.00,560.66 131.10,563.79 131.20,565.91 131.30,567.34 131.40,568.00 131.50,567.69 131.60,566.56 131.70,564.73 131.80,561.93 131.90,559.25 132.00,562.27 132.10,565.54 132.20,568.13 132.30,570.48 132.40,572.42 132.50,573.92 132.60,574.93 132.70,575.48 132.80,575.60 132.90,575.32 133.00,574.63 133.10,573.54 133.20,572.20 133.30,570.89 133.40,569.88 133.50,569.50 133.60,569.88 133.70,570.89 133.80,572.25 133.90,573.62 134.00,574.75 134.10,575.55 134.20,576.04 134.30,576.30 134.40,576.42 134.50,576.47 134.60,576.43 134.70,576.42 134.80,576.37 134.90,576.27 135.00,576.06 135.10,575.68 135.20,575.00 135.30,573.94 135.40,572.43 135.50,570.48 135.60,568.19 135.70,565.63 135.80,562.41 135.90,559.50 136.00,562.39 136.10,565.58 136.20,568.05 136.30,570.12 136.40,571.61 136.50,572.25 136.60,571.89 136.70,570.54 136.80,568.48 136.90,566.26 137.00,564.55 137.10,563.92 137.20,564.61 137.30,566.48 137.40,568.87 137.50,571.22 137.60,573.03 137.70,573.99 137.80,573.99 137.90,573.03 138.00,571.22 138.10,568.87 138.20,566.48 138.30,564.67 138.40,564.00 138.50,564.66 138.60,566.45 138.70,568.81 138.80,571.08 138.90,572.73 139.00,573.45 139.10,573.18 139.20,572.03 139.30,570.30 139.40,568.44 139.50,567.03 139.60,566.50 139.70,567.04 139.80,568.49 139.90,570.43 140.00,572.39 140.10,574.01 140.20,575.15 140.30,575.84 140.40,576.21 140.50,576.39 140.60,576.46 140.70,576.49 143.40,576.48 143.50,576.45 143.60,576.37 143.70,576.20 143.80,575.89 143.90,575.38 144.00,574.65 144.10,573.77 144.20,572.90 144.30,572.24 144.40,572.00 144.50,572.24 144.60,572.90 144.70,573.77 144.80,574.65 144.90,575.38 145.00,575.89 145.10,576.20 145.20,576.37 145.30,576.45 145.40,576.48 145.90,576.48 146.00,576.45 146.10,576.37 146.20,576.20 146.30,575.89 146.40,575.38 146.50,574.65 146.60,573.77 146.70,572.90 146.80,572.24 146.90,572.00 147.00,572.24 147.10,572.90 147.20,573.77 147.30,574.65 147.40,575.38 147.50,575.89 147.60,576.20 147.70,576.37 147.80,576.44 147.90,576.47 148.00,576.44 148.10,576.37 148.20,576.20 148.30,575.89 148.40,575.38 148.50,574.65 148.60,573.77 148.70,572.90 148.80,572.24 148.90,572.00 149.00,572.24 149.10,572.90 149.20,573.77 149.30,574.65 149.40,575.38 149.50,575.89 149.60,576.20 149.70,576.37 149.80,576.45 149.90,576.48 152.60,576.48 152.70,576.46 152.80,576.39 152.90,576.24 153.00,575.96 153.10,575.50 153.20,574.86 153.30,574.07 153.40,573.30 153.50,572.72 153.60,572.50 153.70,572.72 153.80,573.30 153.90,574.07 154.00,574.86 154.10,575.50 154.20,575.96 154.30,576.24 154.40,576.39 154.50,576.46 154.60,576.48 162.60,576.48 162.70,576.44 162.80,576.36 162.90,576.17 163.00,575.82 163.10,575.25 163.20,574.44 163.30,573.47 163.40,572.50 163.50,571.77 163.60,571.50 163.70,571.77 163.80,572.50 163.90,573.47 164.00,574.44 164.10,575.25 164.20,575.82 164.30,576.17 164.40,576.36 164.50,576.44 164.60,576.48 171.90,576.49 172.00,576.46 172.10,576.40 172.20,576.27 172.30,576.03 172.40,575.63 172.50,575.06 172.60,574.38 172.70,573.70 172.80,573.19 172.90,573.00 173.00,573.19 173.10,573.70 173.20,574.38 173.30,575.01 173.40,575.57 173.50,575.96 173.60,576.20 173.70,576.32 173.80,576.37 173.90,576.38 174.00,576.37 174.10,576.34 174.20,576.28 174.30,576.15 174.40,575.88 174.50,575.32 174.60,574.27 174.70,572.45 174.80,569.58 174.90,565.48 175.00,560.20 175.10,554.02 175.20,547.09 175.30,538.31 175.40,530.44 175.50,538.30 175.60,547.02 175.70,553.95 175.80,560.13 175.90,565.40 176.00,569.49 176.10,572.36 176.20,574.17 176.30,575.21 176.40,575.76 176.50,576.02 176.60,576.14 176.70,576.18 176.80,576.20 176.90,576.20 177.00,576.18 177.10,576.16 177.20,576.11 177.30,576.04 177.40,575.88 177.50,575.55 177.60,574.90 177.70,573.50 177.80,570.85 177.90,566.28 178.00,559.08 178.10,548.80 178.20,535.55 178.30,520.02 178.40,502.59 178.50,480.66 178.60,460.82 178.70,480.06 178.80,501.44 178.90,518.30 179.00,533.24 179.10,545.88 179.20,555.52 179.30,562.08 179.40,566.00 179.50,568.01 179.60,568.80 179.70,568.93 179.80,568.77 179.90,568.51 180.00,568.28 180.10,568.12 180.20,568.06 180.30,568.11 180.40,568.25 180.50,568.44 180.60,568.59 180.70,568.52 180.80,567.95 180.90,566.43 181.00,563.37 181.10,558.21 181.20,550.56 181.30,540.50 181.40,528.55 181.50,515.03 181.60,497.82 181.70,482.23 181.80,497.98 181.90,515.32 182.00,529.01 182.10,541.02 182.20,551.09 182.30,558.66 182.40,563.67 182.50,566.47 182.60,567.64 182.70,567.76 182.80,567.27 182.90,566.49 183.00,565.60 183.10,564.73 183.20,563.93 183.30,563.27 183.40,562.77 183.50,562.46 183.60,562.37 183.70,562.49 183.80,562.77 183.90,563.30 184.00,564.00 184.10,564.84 184.20,565.79 184.30,566.81 184.40,567.86 184.50,568.91 184.60,569.93 184.70,570.89 184.80,571.83 184.90,572.61 185.00,573.30 185.10,573.89 185.20,574.35 185.30,574.68 185.40,574.82 185.50,574.66 185.60,573.97 185.70,572.44 185.80,569.63 185.90,565.08 186.00,558.52 186.10,550.04 186.20,540.07 186.30,528.88 186.40,514.79 186.50,502.08 186.60,514.80 186.70,528.91 186.80,540.12 186.90,550.12 187.00,558.65 187.10,565.20 187.20,569.80 187.30,572.68 187.40,574.27 187.50,574.97 187.60,575.06 187.70,574.66 187.80,573.76 187.90,572.27 188.00,570.14 188.10,567.38 188.20,564.14 188.30,560.48 188.40,555.90 188.50,551.66 188.60,554.70 188.70,558.10 188.80,560.61 188.90,562.75 189.00,564.46 189.10,565.65 189.20,566.31 189.30,566.55 189.40,566.52 189.50,566.37 189.60,566.22 189.70,566.11 189.80,566.08 189.90,566.08 190.00,566.07 190.10,565.82 190.20,565.19 190.30,563.99 190.40,562.10 190.50,559.50 190.60,556.32 190.70,552.63 190.80,547.81 190.90,543.37 191.00,547.70 191.10,552.40 191.20,556.00 191.30,559.12 191.40,561.68 191.50,563.57 191.60,564.73 191.70,565.39 191.80,565.68 191.90,565.75 192.00,565.68 192.10,565.47 192.20,565.06 192.30,564.35 192.40,563.27 192.50,561.82 192.60,560.14 192.70,558.16 192.80,555.51 192.90,553.13 193.00,556.93 193.10,561.01 193.20,564.31 193.30,567.19 193.40,569.53 193.50,571.12 193.60,571.84 193.70,571.65 193.80,570.57 193.90,568.75 194.00,566.39 194.10,563.63 194.20,560.04 194.30,556.84 194.40,560.22 194.50,563.96 194.60,566.92 194.70,569.56 194.80,571.81 194.90,573.55 195.00,574.77 195.10,575.55 195.20,576.00 195.30,576.23 195.40,576.35 195.50,576.41 195.60,576.43 195.70,576.44 195.80,576.48 195.90,576.44 196.00,576.36 196.10,576.17 196.20,575.82 196.30,575.25 196.40,574.44 196.50,573.47 196.60,572.50 196.70,571.77 196.80,571.50 196.90,571.77 197.00,572.50 197.10,573.47 197.20,574.44 197.30,575.25 197.40,575.82 197.50,576.17 197.60,576.36 197.70,576.44 197.80,576.48 197.90,576.49 198.00,576.47 198.10,576.42 198.20,576.30 198.30,576.04 198.40,575.55 198.50,574.75 198.60,573.62 198.70,572.25 198.80,570.89 198.90,569.88 199.00,569.50 199.10,569.88 199.20,570.89 199.30,572.25 199.40,573.62 199.50,574.75 199.60,575.55 199.70,576.04 199.80,576.30 199.90,576.42 200.00,576.47 200.10,576.47 200.20,576.44 200.30,576.36 200.40,576.17 200.50,575.82 200.60,575.25 200.70,574.44 200.80,573.47 200.90,572.50 201.00,571.77 201.10,571.50 201.20,571.77 201.30,572.50 201.40,573.47 201.50,574.44 201.60,575.25 201.70,575.82 201.80,576.17 201.90,576.36 202.00,576.44 202.10,576.48 202.60,576.49 202.70,576.46 202.80,576.40 202.90,576.27 203.00,576.03 203.10,575.63 203.20,575.06 203.30,574.38 203.40,573.70 203.50,573.19 203.60,573.00 203.70,573.19 203.80,573.70 203.90,574.38 204.00,575.06 204.10,575.63 204.20,576.03 204.30,576.27 204.40,576.40 204.50,576.46 204.60,576.49 220.40,576.49 220.50,576.47 220.60,576.41 220.70,576.30 220.80,576.09 220.90,575.75 221.00,575.27 221.10,574.68 221.20,574.10 221.30,573.66 221.40,573.50 221.50,573.66 221.60,574.10 221.70,574.68 221.80,575.27 221.90,575.75 222.00,576.09 222.10,576.30 222.20,576.41 222.30,576.47 222.40,576.49 231.80,576.49 231.90,576.48 232.00,576.43 232.10,576.33 232.20,576.11 232.30,575.69 232.40,575.00 232.50,574.03 232.60,572.86 232.70,571.70 232.80,570.82 232.90,570.50 233.00,570.82 233.10,571.70 233.20,572.86 233.30,574.03 233.40,575.00 233.50,575.69 233.60,576.11 233.70,576.33 233.80,576.43 233.90,576.48 234.00,576.49 234.70,576.50 234.80,576.45 234.90,576.44 235.00,576.43 235.10,576.42 235.20,576.40 235.30,576.36 235.40,576.28 235.50,576.11 235.60,575.76 235.70,575.09 235.80,573.95 235.90,572.14 236.00,569.55 236.10,566.23 236.20,562.33 236.30,557.96 236.40,552.46 236.50,547.50 236.60,552.46 236.70,557.96 236.80,562.33 236.90,566.23 237.00,569.55 237.10,572.14 237.20,573.95 237.30,575.09 237.40,575.76 237.50,576.11 237.60,576.28 237.70,576.36 237.80,576.40 237.90,576.42 238.00,576.43 238.10,576.44 238.20,576.45 238.30,576.44 238.40,576.44 238.50,576.43 238.60,576.41 238.70,576.39 238.80,576.35 238.90,576.26 239.00,576.07 239.10,575.68 239.20,574.95 239.30,573.68 239.40,571.63 239.50,568.78 239.60,565.10 239.70,560.80 239.80,555.97 239.90,549.90 240.00,544.42 240.10,549.89 240.20,555.95 240.30,560.76 240.40,565.06 240.50,568.72 240.60,571.56 240.70,573.54 240.80,574.79 240.90,575.50 241.00,575.87 241.10,576.04 241.20,576.09 241.30,576.09 241.40,576.03 241.50,575.89 241.60,575.58 241.70,574.91 241.80,573.61 241.90,571.04 242.00,566.59 242.10,559.58 242.20,549.58 242.30,536.69 242.40,521.58 242.50,504.64 242.60,483.32 242.70,464.03 242.80,483.13 242.90,504.30 243.00,521.04 243.10,535.87 243.20,548.32 243.30,557.62 243.40,563.52 243.50,566.31 243.60,566.59 243.70,565.05 243.80,562.33 243.90,558.83 244.00,554.24 244.10,549.92 244.20,553.03 244.30,556.46 244.40,558.96 244.50,561.03 244.60,562.62 244.70,563.60 244.80,563.96 244.90,563.79 245.00,563.26 245.10,562.51 245.20,561.66 245.30,560.79 245.40,559.97 245.50,559.23 245.60,558.65 245.70,558.13 245.80,557.75 245.90,557.52 246.00,557.45 246.10,557.58 246.20,557.81 246.30,558.19 246.40,558.70 246.50,559.31 246.60,559.97 246.70,560.58 246.80,561.00 246.90,561.01 247.00,560.44 247.10,559.22 247.20,557.53 247.30,555.84 247.40,554.80 247.50,555.00 247.60,556.66 247.70,559.53 247.80,563.03 247.90,566.47 248.00,569.37 248.10,571.53 248.20,572.99 248.30,573.92 248.40,574.47 248.50,574.75 248.60,574.78 248.70,574.56 248.80,574.11 248.90,573.49 249.00,572.84 249.10,572.36 249.20,572.22 249.30,572.51 249.40,573.14 249.50,573.95 249.60,574.77 249.70,575.44 249.80,575.91 249.90,576.20 250.00,576.36 250.10,576.44 250.20,576.47 250.30,576.49 250.60,576.48 250.70,576.44 250.80,576.35 250.90,576.10 251.00,575.59 251.10,574.63 251.20,573.06 251.30,570.83 251.40,568.13 251.50,565.45 251.60,563.45 251.70,562.70 251.80,563.44 251.90,565.45 252.00,568.11 252.10,570.78 252.20,572.91 252.30,574.26 252.40,574.74 252.50,574.35 252.60,573.11 252.70,571.10 252.80,568.60 252.90,566.09 253.00,564.20 253.10,563.50 253.20,564.20 253.30,566.09 253.40,568.62 253.50,571.16 253.60,573.26 253.70,574.74 253.80,575.64 253.90,576.12 254.00,576.33 254.10,576.39 254.20,576.33 254.30,576.13 254.40,575.75 254.50,575.13 254.60,574.24 254.70,573.16 254.80,572.10 254.90,571.30 255.00,571.00 255.10,571.30 255.20,572.10 255.30,573.16 255.40,574.24 255.50,575.13 255.60,575.76 255.70,576.14 255.80,576.34 255.90,576.43 256.00,576.46 256.10,576.43 256.20,576.34 256.30,576.14 256.40,575.76 256.50,575.13 256.60,574.24 256.70,573.16 256.80,572.10 256.90,571.30 257.00,571.00 257.10,571.30 257.20,572.10 257.30,573.16 257.40,574.24 257.50,575.13 257.60,575.75 257.70,576.12 257.80,576.28 257.90,576.27 258.00,576.08 258.10,575.68 258.20,575.00 258.30,574.03 258.40,572.86 258.50,571.70 258.60,570.82 258.70,570.50 258.80,570.82 258.90,571.70 259.00,572.86 259.10,574.03 259.20,575.00 259.30,575.69 259.40,576.11 259.50,576.33 259.60,576.43 259.70,576.48 259.80,576.49 259.90,576.49 260.00,576.47 260.10,576.43 260.20,576.31 260.30,576.07 260.40,575.62 260.50,574.88 260.60,573.83 260.70,572.56 260.80,571.30 260.90,570.35 261.00,570.00 261.10,570.35 261.20,571.30 261.30,572.56 261.40,573.83 261.50,574.88 261.60,575.62 261.70,576.07 261.80,576.31 261.90,576.43 262.00,576.47 262.10,576.49 262.20,576.48 262.30,576.44 262.40,576.36 262.50,576.17 262.60,575.82 262.70,575.25 262.80,574.44 262.90,573.47 263.00,572.50 263.10,571.77 263.20,571.50 263.30,571.77 263.40,572.50 263.50,573.47 263.60,574.44 263.70,575.23 263.80,575.76 263.90,576.00 264.00,575.96 264.10,575.63 264.20,574.98 264.30,574.03 264.40,572.86 264.50,571.70 264.60,570.82 264.70,570.50 264.80,570.82 264.90,571.70 265.00,572.86 265.10,574.03 265.20,575.00 265.30,575.69 265.40,576.11 265.50,576.33 265.60,576.43 265.70,576.48 265.80,576.49 302.30,576.48 302.40,576.45 302.50,576.35 302.60,576.11 302.70,575.61 302.80,574.66 302.90,573.11 303.00,570.91 303.10,568.25 303.20,565.61 303.30,563.63 303.40,562.90 303.50,563.63 303.60,565.61 303.70,568.24 303.80,570.88 303.90,573.02 304.00,574.43 304.10,575.08 304.20,575.03 304.30,574.35 304.40,573.16 304.50,571.63 304.60,570.09 304.70,568.93 304.80,568.50 304.90,568.93 305.00,570.09 305.10,571.65 305.20,573.21 305.30,574.51 305.40,575.42 305.50,575.97 305.60,576.27 305.70,576.41 305.80,576.47 305.90,576.49 308.30,576.48 308.40,576.44 308.50,576.34 308.60,576.08 308.70,575.53 308.80,574.50 308.90,572.81 309.00,570.42 309.10,567.52 309.20,564.65 309.30,562.50 309.40,561.70 309.50,562.50 309.60,564.65 309.70,567.52 309.80,570.42 309.90,572.81 310.00,574.50 310.10,575.53 310.20,576.08 310.30,576.34 310.40,576.44 310.50,576.48 318.90,576.48 319.00,576.44 319.10,576.36 319.20,576.17 319.30,575.82 319.40,575.25 319.50,574.44 319.60,573.47 319.70,572.50 319.80,571.77 319.90,571.50 320.00,571.77 320.10,572.50 320.20,573.47 320.30,574.44 320.40,575.25 320.50,575.82 320.60,576.17 320.70,576.36 320.80,576.44 320.90,576.48 328.20,576.50" fill="none" stroke="#222" stroke-width="0.65" stroke-linejoin="round"/>
<line x1="52.70" y1="468.00" x2="52.70" y2="577.00" stroke="#555" stroke-width="1"/>
<line x1="46.80" y1="499.60" x2="52.70" y2="499.60" stroke="#333" stroke-width="1"/>
<text x="20.71" y="504.00" font-size="16.2" font-weight="normal" font-style="normal" fill="#111" >5.0</text>
<line x1="46.80" y1="538.30" x2="52.70" y2="538.30" stroke="#333" stroke-width="1"/>
<text x="20.76" y="542.80" font-size="16.2" font-weight="normal" font-style="normal" fill="#111" >2.5</text>
<line x1="46.80" y1="576.60" x2="52.70" y2="576.60" stroke="#333" stroke-width="1"/>
<text x="36.82" y="580.20" font-size="16.2" font-weight="normal" font-style="normal" fill="#111" >0</text>
<line x1="53.20" y1="579.90" x2="328.20" y2="579.90" stroke="#666" stroke-width="1"/>
<line x1="53.20" y1="579.90" x2="53.20" y2="585.30" stroke="#666" stroke-width="1"/>
<line x1="108.40" y1="579.90" x2="108.40" y2="585.30" stroke="#666" stroke-width="1"/>
<line x1="163.30" y1="579.90" x2="163.30" y2="585.30" stroke="#666" stroke-width="1"/>
<line x1="218.60" y1="579.90" x2="218.60" y2="585.30" stroke="#666" stroke-width="1"/>
<line x1="273.50" y1="579.90" x2="273.50" y2="585.30" stroke="#666" stroke-width="1"/>
<line x1="328.20" y1="579.90" x2="328.20" y2="585.30" stroke="#666" stroke-width="1"/>
<text x="32.06" y="602.40" font-size="16.2" font-weight="normal" font-style="normal" fill="#111" >4,200</text>
<text x="87.16" y="602.40" font-size="16.2" font-weight="normal" font-style="normal" fill="#111" >4,400</text>
<text x="141.76" y="602.40" font-size="16.2" font-weight="normal" font-style="normal" fill="#111" >4,600</text>
<text x="197.56" y="602.40" font-size="16.2" font-weight="normal" font-style="normal" fill="#111" >4,800</text>
<text x="252.12" y="602.40" font-size="16.2" font-weight="normal" font-style="normal" fill="#111" >5,000</text>
<text x="306.92" y="602.40" font-size="16.2" font-weight="normal" font-style="normal" fill="#111" >5,200</text>
<text x="175.59" y="615.70" font-size="16" font-weight="normal" font-style="italic" fill="#111" >m/z</text>
<text transform="translate(14.60,570.80) rotate(-90)" x="0" y="0" font-size="16.3" fill="#111">Intensity (e4)</text>
<text x="7.70" y="428.00" font-size="15.3" font-weight="bold" font-style="normal" fill="#000" >c</text>
<text x="51.70" y="428.80" font-size="16.3" font-weight="normal" font-style="italic" fill="#8c8c8c" >D. circinale</text>
<text x="137.52" y="428.80" font-size="16.3" font-weight="bold" font-style="normal" fill="#111" >+</text>
<text x="151.30" y="428.80" font-size="16.3" font-weight="normal" font-style="italic" fill="#111" >L. maxima</text>
<text x="121.84" y="479.30" font-size="13.5" font-weight="normal" font-style="normal" fill="#111" >24+</text>
<text x="186.89" y="455.80" font-size="13.5" font-weight="normal" font-style="normal" fill="#111" >23+</text>
<text x="202.59" y="482.90" font-size="13.5" font-weight="normal" font-style="normal" fill="#111" >24+</text>
<text x="209.19" y="514.10" font-size="13.5" font-weight="normal" font-style="normal" fill="#111" >22+</text>
<text x="252.49" y="460.70" font-size="13.5" font-weight="normal" font-style="normal" fill="#111" >23+</text>
<line x1="118.70" y1="514.10" x2="123.45" y2="524.60" stroke="#111" stroke-width="1.1"/>
<polygon points="125.30,528.70 120.87,525.21 125.61,523.07" fill="#111"/>
<line x1="112.70" y1="546.40" x2="119.24" y2="556.43" stroke="#111" stroke-width="1.1"/>
<polygon points="121.70,560.20 116.79,557.43 121.15,554.59" fill="#111"/>
<line x1="166.50" y1="515.20" x2="172.48" y2="524.60" stroke="#111" stroke-width="1.1"/>
<polygon points="174.90,528.40 170.02,525.58 174.41,522.79" fill="#111"/>
<line x1="190.80" y1="473.10" x2="185.02" y2="480.29" stroke="#111" stroke-width="1.1"/>
<polygon points="182.20,483.80 183.31,478.27 187.36,481.53" fill="#111"/>
<line x1="201.00" y1="497.30" x2="192.28" y2="500.12" stroke="#111" stroke-width="1.1"/>
<polygon points="188.00,501.50 191.96,497.49 193.56,502.44" fill="#111"/>
<line x1="236.10" y1="526.90" x2="238.70" y2="538.31" stroke="#111" stroke-width="1.1"/>
<polygon points="239.70,542.70 236.05,538.40 241.12,537.25" fill="#111"/>
<line x1="226.90" y1="533.10" x2="233.60" y2="543.16" stroke="#111" stroke-width="1.1"/>
<polygon points="236.10,546.90 231.16,544.18 235.49,541.30" fill="#111"/>
<line x1="222.70" y1="555.10" x2="229.81" y2="565.22" stroke="#111" stroke-width="1.1"/>
<polygon points="232.40,568.90 227.40,566.30 231.65,563.31" fill="#111"/>
<circle cx="125.70" cy="489.10" r="2.2" fill="#468a2c" stroke="#1c4c14" stroke-width="1.1"/>
<circle cx="129.70" cy="489.10" r="2.2" fill="#468a2c" stroke="#1c4c14" stroke-width="1.1"/>
<circle cx="123.55" cy="493.90" r="2.2" fill="#468a2c" stroke="#1c4c14" stroke-width="1.1"/>
<circle cx="131.85" cy="493.90" r="2.2" fill="#468a2c" stroke="#1c4c14" stroke-width="1.1"/>
<circle cx="125.70" cy="498.70" r="2.2" fill="#468a2c" stroke="#1c4c14" stroke-width="1.1"/>
<circle cx="129.70" cy="498.70" r="2.2" fill="#468a2c" stroke="#1c4c14" stroke-width="1.1"/>
<circle cx="110.70" cy="503.70" r="2.2" fill="#468a2c" stroke="#1c4c14" stroke-width="1.1"/>
<circle cx="114.70" cy="503.70" r="2.2" fill="#468a2c" stroke="#1c4c14" stroke-width="1.1"/>
<circle cx="108.55" cy="508.50" r="2.2" fill="#468a2c" stroke="#1c4c14" stroke-width="1.1"/>
<circle cx="116.85" cy="508.50" r="2.2" fill="#468a2c" stroke="#1c4c14" stroke-width="1.1"/>
<circle cx="110.70" cy="513.30" r="2.2" fill="#90e85e" stroke="#2e7f2c" stroke-width="1.1"/>
<circle cx="114.70" cy="513.30" r="2.2" fill="#90e85e" stroke="#2e7f2c" stroke-width="1.1"/>
<circle cx="104.90" cy="535.90" r="2.2" fill="#90e85e" stroke="#2e7f2c" stroke-width="1.1"/>
<circle cx="108.90" cy="535.90" r="2.2" fill="#468a2c" stroke="#1c4c14" stroke-width="1.1"/>
<circle cx="102.75" cy="540.70" r="2.2" fill="#90e85e" stroke="#2e7f2c" stroke-width="1.1"/>
<circle cx="111.05" cy="540.70" r="2.2" fill="#468a2c" stroke="#1c4c14" stroke-width="1.1"/>
<circle cx="104.90" cy="545.50" r="2.2" fill="#90e85e" stroke="#2e7f2c" stroke-width="1.1"/>
<circle cx="108.90" cy="545.50" r="2.2" fill="#90e85e" stroke="#2e7f2c" stroke-width="1.1"/>
<circle cx="160.50" cy="556.20" r="2.2" fill="#4cabdd" stroke="#2a7fb5" stroke-width="1.1"/>
<circle cx="164.50" cy="556.20" r="2.2" fill="#4cabdd" stroke="#2a7fb5" stroke-width="1.1"/>
<circle cx="158.35" cy="561.00" r="2.2" fill="#4cabdd" stroke="#2a7fb5" stroke-width="1.1"/>
<circle cx="166.65" cy="561.00" r="2.2" fill="#4cabdd" stroke="#2a7fb5" stroke-width="1.1"/>
<circle cx="160.50" cy="565.80" r="2.2" fill="#4cabdd" stroke="#2a7fb5" stroke-width="1.1"/>
<circle cx="164.50" cy="565.80" r="2.2" fill="#4cabdd" stroke="#2a7fb5" stroke-width="1.1"/>
<circle cx="158.10" cy="504.10" r="2.2" fill="#90e85e" stroke="#2e7f2c" stroke-width="1.1"/>
<circle cx="162.10" cy="504.10" r="2.2" fill="#468a2c" stroke="#1c4c14" stroke-width="1.1"/>
<circle cx="155.95" cy="508.90" r="2.2" fill="#90e85e" stroke="#2e7f2c" stroke-width="1.1"/>
<circle cx="164.25" cy="508.90" r="2.2" fill="#468a2c" stroke="#1c4c14" stroke-width="1.1"/>
<circle cx="158.10" cy="513.70" r="2.2" fill="#90e85e" stroke="#2e7f2c" stroke-width="1.1"/>
<circle cx="162.10" cy="513.70" r="2.2" fill="#90e85e" stroke="#2e7f2c" stroke-width="1.1"/>
<circle cx="176.20" cy="448.80" r="2.2" fill="#468a2c" stroke="#1c4c14" stroke-width="1.1"/>
<circle cx="180.20" cy="448.80" r="2.2" fill="#468a2c" stroke="#1c4c14" stroke-width="1.1"/>
<circle cx="174.05" cy="453.60" r="2.2" fill="#468a2c" stroke="#1c4c14" stroke-width="1.1"/>
<circle cx="182.35" cy="453.60" r="2.2" fill="#468a2c" stroke="#1c4c14" stroke-width="1.1"/>
<circle cx="176.20" cy="458.40" r="2.2" fill="#90e85e" stroke="#2e7f2c" stroke-width="1.1"/>
<circle cx="180.20" cy="458.40" r="2.2" fill="#90e85e" stroke="#2e7f2c" stroke-width="1.1"/>
<circle cx="194.60" cy="462.40" r="2.2" fill="#468a2c" stroke="#1c4c14" stroke-width="1.1"/>
<circle cx="198.60" cy="462.40" r="2.2" fill="#468a2c" stroke="#1c4c14" stroke-width="1.1"/>
<circle cx="192.45" cy="467.20" r="2.2" fill="#468a2c" stroke="#1c4c14" stroke-width="1.1"/>
<circle cx="200.75" cy="467.20" r="2.2" fill="#468a2c" stroke="#1c4c14" stroke-width="1.1"/>
<circle cx="194.60" cy="472.00" r="2.2" fill="#468a2c" stroke="#1c4c14" stroke-width="1.1"/>
<circle cx="198.60" cy="472.00" r="2.2" fill="#468a2c" stroke="#1c4c14" stroke-width="1.1"/>
<circle cx="205.00" cy="488.60" r="2.2" fill="#2d6e98" stroke="#173f5f" stroke-width="1.1"/>
<circle cx="209.00" cy="488.60" r="2.2" fill="#2d6e98" stroke="#173f5f" stroke-width="1.1"/>
<circle cx="202.85" cy="493.40" r="2.2" fill="#2d6e98" stroke="#173f5f" stroke-width="1.1"/>
<circle cx="211.15" cy="493.40" r="2.2" fill="#2d6e98" stroke="#173f5f" stroke-width="1.1"/>
<circle cx="205.00" cy="498.20" r="2.2" fill="#2d6e98" stroke="#173f5f" stroke-width="1.1"/>
<circle cx="209.00" cy="498.20" r="2.2" fill="#2d6e98" stroke="#173f5f" stroke-width="1.1"/>
<circle cx="240.50" cy="451.50" r="2.2" fill="#2d6e98" stroke="#173f5f" stroke-width="1.1"/>
<circle cx="244.50" cy="451.50" r="2.2" fill="#2d6e98" stroke="#173f5f" stroke-width="1.1"/>
<circle cx="238.35" cy="456.30" r="2.2" fill="#2d6e98" stroke="#173f5f" stroke-width="1.1"/>
<circle cx="246.65" cy="456.30" r="2.2" fill="#2d6e98" stroke="#173f5f" stroke-width="1.1"/>
<circle cx="240.50" cy="461.10" r="2.2" fill="#2d6e98" stroke="#173f5f" stroke-width="1.1"/>
<circle cx="244.50" cy="461.10" r="2.2" fill="#2d6e98" stroke="#173f5f" stroke-width="1.1"/>
<circle cx="233.10" cy="514.20" r="2.2" fill="#468a2c" stroke="#1c4c14" stroke-width="1.1"/>
<circle cx="237.10" cy="514.20" r="2.2" fill="#468a2c" stroke="#1c4c14" stroke-width="1.1"/>
<circle cx="230.95" cy="519.00" r="2.2" fill="#468a2c" stroke="#1c4c14" stroke-width="1.1"/>
<circle cx="239.25" cy="519.00" r="2.2" fill="#468a2c" stroke="#1c4c14" stroke-width="1.1"/>
<circle cx="233.10" cy="523.80" r="2.2" fill="#468a2c" stroke="#1c4c14" stroke-width="1.1"/>
<circle cx="237.10" cy="523.80" r="2.2" fill="#468a2c" stroke="#1c4c14" stroke-width="1.1"/>
<circle cx="219.40" cy="522.50" r="2.2" fill="#468a2c" stroke="#1c4c14" stroke-width="1.1"/>
<circle cx="223.40" cy="522.50" r="2.2" fill="#468a2c" stroke="#1c4c14" stroke-width="1.1"/>
<circle cx="217.25" cy="527.30" r="2.2" fill="#468a2c" stroke="#1c4c14" stroke-width="1.1"/>
<circle cx="225.55" cy="527.30" r="2.2" fill="#468a2c" stroke="#1c4c14" stroke-width="1.1"/>
<circle cx="219.40" cy="532.10" r="2.2" fill="#90e85e" stroke="#2e7f2c" stroke-width="1.1"/>
<circle cx="223.40" cy="532.10" r="2.2" fill="#90e85e" stroke="#2e7f2c" stroke-width="1.1"/>
<circle cx="215.20" cy="544.50" r="2.2" fill="#90e85e" stroke="#2e7f2c" stroke-width="1.1"/>
<circle cx="219.20" cy="544.50" r="2.2" fill="#468a2c" stroke="#1c4c14" stroke-width="1.1"/>
<circle cx="213.05" cy="549.30" r="2.2" fill="#90e85e" stroke="#2e7f2c" stroke-width="1.1"/>
<circle cx="221.35" cy="549.30" r="2.2" fill="#468a2c" stroke="#1c4c14" stroke-width="1.1"/>
<circle cx="215.20" cy="554.10" r="2.2" fill="#90e85e" stroke="#2e7f2c" stroke-width="1.1"/>
<circle cx="219.20" cy="554.10" r="2.2" fill="#90e85e" stroke="#2e7f2c" stroke-width="1.1"/>
<path d="M396.50 576.85H402.00 M403.20 576.85H412.50 M413.90 576.85H416.50 M417.90 576.85H421.10 M422.70 576.85H425.90 M427.50 576.85H429.30 M430.50 576.85H431.90 M433.10 576.85H434.80 M436.00 576.85H437.70 M438.90 576.85H441.00 M442.20 576.85H444.60 M446.40 576.85H446.50 M448.10 576.85H448.40 M449.80 576.85H450.30 M451.70 576.85H454.00 M455.20 576.85H456.40 M457.60 576.85H458.70 M460.10 576.85H460.50 M464.10 576.85H465.00 M478.50 576.85H478.80 M480.20 576.85H481.10 M483.80 576.85H487.40 M488.60 576.85H491.40 M492.60 576.85H497.00 M498.40 576.85H500.40 M501.60 576.85H503.40 M504.60 576.85H506.40 M507.60 576.85H509.40 M510.60 576.85H512.00 M513.20 576.85H514.10 M518.00 576.85H518.40 M525.30 576.85H526.40 M538.40 576.85H539.40 M540.60 576.85H543.50 M544.50 576.85H548.50 M549.70 576.85H552.60 M553.80 576.85H554.60 M555.80 576.85H558.20 M559.40 576.85H559.70 M560.90 576.85H563.80 M565.00 576.85H566.90 M568.10 576.85H571.90 M573.30 576.85H573.90 M575.30 576.85H578.40 M580.80 576.85H581.90 M585.10 576.85H586.90 M589.50 576.85H589.60 M592.70 576.85H593.40 M594.60 576.85H607.70 M609.10 576.85H610.40 M612.00 576.85H624.60 M625.80 576.85H627.40 M628.60 576.85H639.60 M641.20 576.85H642.00 M643.40 576.85H644.90 M646.30 576.85H647.30 M648.70 576.85H649.90 M651.10 576.85H652.40 M653.60 576.85H666.40 M667.60 576.85H670.70" stroke="#111" stroke-width="1.3" fill="none"/>
<polyline points="396.50,577.00 401.70,576.98 401.80,576.96 401.90,576.90 402.00,576.80 402.10,576.63 402.20,576.38 402.30,576.09 402.40,575.80 402.50,575.58 402.60,575.50 402.70,575.58 402.80,575.80 402.90,576.09 403.00,576.38 403.10,576.63 403.20,576.80 403.30,576.90 403.40,576.96 403.50,576.98 412.20,576.99 412.30,576.96 412.40,576.90 412.50,576.77 412.60,576.53 412.70,576.13 412.80,575.56 412.90,574.88 413.00,574.20 413.10,573.69 413.20,573.50 413.30,573.69 413.40,574.20 413.50,574.88 413.60,575.56 413.70,576.13 413.80,576.53 413.90,576.77 414.00,576.90 414.10,576.96 414.20,576.99 416.20,576.98 416.30,576.95 416.40,576.87 416.50,576.70 416.60,576.39 416.70,575.88 416.80,575.15 416.90,574.27 417.00,573.40 417.10,572.74 417.20,572.50 417.30,572.74 417.40,573.40 417.50,574.27 417.60,575.15 417.70,575.88 417.80,576.39 417.90,576.70 418.00,576.87 418.10,576.95 418.20,576.98 420.80,576.99 420.90,576.97 421.00,576.90 421.10,576.74 421.20,576.41 421.30,575.78 421.40,574.76 421.50,573.30 421.60,571.54 421.70,569.79 421.80,568.49 421.90,568.00 422.00,568.49 422.10,569.79 422.20,571.54 422.30,573.30 422.40,574.76 422.50,575.78 422.60,576.41 422.70,576.74 422.80,576.90 422.90,576.97 423.00,576.99 425.60,576.99 425.70,576.97 425.80,576.91 425.90,576.77 426.00,576.47 426.10,575.92 426.20,575.01 426.30,573.71 426.40,572.15 426.50,570.59 426.60,569.43 426.70,569.00 426.80,569.43 426.90,570.59 427.00,572.15 427.10,573.71 427.20,575.01 427.30,575.92 427.40,576.47 427.50,576.77 427.60,576.91 427.70,576.97 427.80,576.99 428.90,576.99 429.00,576.98 429.10,576.94 429.20,576.87 429.30,576.73 429.40,576.50 429.50,576.18 429.60,575.79 429.70,575.40 429.80,575.11 429.90,575.00 430.00,575.11 430.10,575.40 430.20,575.79 430.30,576.18 430.40,576.50 430.50,576.73 430.60,576.87 430.70,576.94 430.80,576.98 430.90,576.99 431.50,576.99 431.60,576.98 431.70,576.94 431.80,576.87 431.90,576.73 432.00,576.50 432.10,576.18 432.20,575.79 432.30,575.40 432.40,575.11 432.50,575.00 432.60,575.11 432.70,575.40 432.80,575.79 432.90,576.18 433.00,576.50 433.10,576.73 433.20,576.87 433.30,576.94 433.40,576.98 433.50,576.99 434.40,576.99 434.50,576.98 434.60,576.94 434.70,576.87 434.80,576.73 434.90,576.50 435.00,576.18 435.10,575.79 435.20,575.40 435.30,575.11 435.40,575.00 435.50,575.11 435.60,575.40 435.70,575.79 435.80,576.18 435.90,576.50 436.00,576.73 436.10,576.87 436.20,576.94 436.30,576.98 436.40,576.99 437.30,576.99 437.40,576.98 437.50,576.94 437.60,576.87 437.70,576.73 437.80,576.50 437.90,576.18 438.00,575.79 438.10,575.40 438.20,575.11 438.30,575.00 438.40,575.11 438.50,575.40 438.60,575.79 438.70,576.18 438.80,576.50 438.90,576.73 439.00,576.87 439.10,576.94 439.20,576.98 439.30,576.99 440.70,576.98 440.80,576.96 440.90,576.90 441.00,576.80 441.10,576.63 441.20,576.38 441.30,576.09 441.40,575.80 441.50,575.58 441.60,575.50 441.70,575.58 441.80,575.80 441.90,576.09 442.00,576.38 442.10,576.63 442.20,576.80 442.30,576.90 442.40,576.96 442.50,576.98 444.40,576.98 444.50,576.95 444.60,576.85 444.70,576.62 444.80,576.12 444.90,575.19 445.00,573.66 445.10,571.49 445.20,568.87 445.30,566.27 445.40,564.32 445.50,563.60 445.60,564.32 445.70,566.27 445.80,568.87 445.90,571.49 446.00,573.66 446.10,575.18 446.20,576.11 446.30,576.60 446.40,576.79 446.50,576.79 446.60,576.62 446.70,576.25 446.80,575.63 446.90,574.74 447.00,573.66 447.10,572.60 447.20,571.80 447.30,571.50 447.40,571.80 447.50,572.60 447.60,573.66 447.70,574.74 447.80,575.63 447.90,576.25 448.00,576.63 448.10,576.83 448.20,576.89 448.30,576.86 448.40,576.71 448.50,576.42 448.60,575.93 448.70,575.23 448.80,574.39 448.90,573.56 449.00,572.93 449.10,572.70 449.20,572.93 449.30,573.56 449.40,574.39 449.50,575.23 449.60,575.93 449.70,576.42 449.80,576.72 449.90,576.87 450.00,576.94 450.10,576.95 450.20,576.91 450.30,576.80 450.40,576.59 450.50,576.25 450.60,575.77 450.70,575.18 450.80,574.60 450.90,574.16 451.00,574.00 451.10,574.16 451.20,574.60 451.30,575.18 451.40,575.77 451.50,576.25 451.60,576.59 451.70,576.80 451.80,576.91 451.90,576.97 452.00,576.99 453.60,576.99 453.70,576.98 453.80,576.94 453.90,576.87 454.00,576.73 454.10,576.50 454.20,576.18 454.30,575.79 454.40,575.40 454.50,575.11 454.60,575.00 454.70,575.11 454.80,575.40 454.90,575.79 455.00,576.18 455.10,576.50 455.20,576.73 455.30,576.87 455.40,576.94 455.50,576.98 455.60,576.99 456.00,576.99 456.10,576.98 456.20,576.94 456.30,576.87 456.40,576.73 456.50,576.50 456.60,576.18 456.70,575.79 456.80,575.40 456.90,575.11 457.00,575.00 457.10,575.11 457.20,575.40 457.30,575.79 457.40,576.18 457.50,576.50 457.60,576.73 457.70,576.87 457.80,576.94 457.90,576.98 458.00,576.99 458.40,576.99 458.50,576.97 458.60,576.91 458.70,576.80 458.80,576.59 458.90,576.25 459.00,575.77 459.10,575.18 459.20,574.60 459.30,574.16 459.40,574.00 459.50,574.16 459.60,574.60 459.70,575.18 459.80,575.77 459.90,576.20 460.00,576.54 460.10,576.74 460.20,576.84 460.30,576.87 460.40,576.85 460.50,576.78 460.60,576.61 460.70,576.26 460.80,575.59 460.90,574.45 461.00,572.64 461.10,570.05 461.20,566.73 461.30,562.83 461.40,558.46 461.50,552.96 461.60,548.00 461.70,552.96 461.80,558.46 461.90,562.83 462.00,566.73 462.10,570.05 462.20,572.63 462.30,574.41 462.40,575.50 462.50,576.01 462.60,576.05 462.70,575.63 462.80,574.74 462.90,573.41 463.00,571.77 463.10,570.13 463.20,568.90 463.30,568.45 463.40,568.96 463.50,570.19 463.60,571.84 463.70,573.51 463.80,574.83 463.90,575.79 464.00,576.38 464.10,576.69 464.20,576.83 464.30,576.88 464.40,576.89 464.50,576.89 464.60,576.88 464.70,576.86 464.80,576.83 464.90,576.79 465.00,576.71 465.10,576.53 465.20,576.16 465.30,575.41 465.40,573.99 465.50,571.54 465.60,567.62 465.70,562.09 465.80,554.97 465.90,546.63 466.00,537.28 466.10,525.51 466.20,514.90 466.30,525.49 466.40,537.22 466.50,546.53 466.60,554.80 466.70,561.77 466.80,566.99 466.90,570.26 467.00,571.57 467.10,571.01 467.20,568.64 467.30,564.55 467.40,558.99 467.50,552.36 467.60,544.86 467.70,535.41 467.80,526.88 467.90,535.44 468.00,544.93 468.10,552.47 468.20,559.17 468.30,564.83 468.40,569.10 468.50,571.82 468.60,573.03 468.70,572.97 468.80,571.80 468.90,569.95 469.00,567.95 469.10,566.42 469.20,565.87 469.30,566.48 469.40,568.09 469.50,570.24 469.60,572.40 469.70,574.13 469.80,575.37 469.90,576.10 470.00,576.42 470.10,576.47 470.20,576.18 470.30,575.58 470.40,574.59 470.50,573.17 470.60,571.33 470.70,569.13 470.80,566.71 470.90,563.67 471.00,560.93 471.10,563.65 471.20,566.67 471.30,569.06 471.40,571.16 471.50,572.89 471.60,574.10 471.70,574.65 471.80,574.45 471.90,573.37 472.00,571.29 472.10,568.14 472.20,563.99 472.30,559.11 472.40,553.66 472.50,546.74 472.60,540.50 472.70,546.74 472.80,553.66 472.90,559.15 473.00,564.01 473.10,568.09 473.20,571.09 473.30,572.82 473.40,573.24 473.50,572.40 473.60,570.46 473.70,567.81 473.80,565.06 473.90,562.97 474.00,562.20 474.10,563.01 474.20,565.16 474.30,568.02 474.40,570.90 474.50,573.23 474.60,574.93 474.70,575.90 474.80,576.35 474.90,576.40 475.00,576.12 475.10,575.49 475.20,574.44 475.30,572.93 475.40,570.98 475.50,568.69 475.60,566.13 475.70,562.91 475.80,560.00 475.90,562.91 476.00,566.13 476.10,568.69 476.20,570.98 476.30,572.93 476.40,574.44 476.50,575.50 476.60,576.16 476.70,576.52 476.80,576.65 476.90,576.56 477.00,576.20 477.10,575.45 477.20,574.26 477.30,572.48 477.40,570.33 477.50,568.19 477.60,566.59 477.70,566.00 477.80,566.59 477.90,568.19 478.00,570.33 478.10,572.48 478.20,574.26 478.30,575.51 478.40,576.27 478.50,576.67 478.60,576.83 478.70,576.84 478.80,576.72 478.90,576.45 479.00,576.00 479.10,575.36 479.20,574.57 479.30,573.80 479.40,573.22 479.50,573.00 479.60,573.22 479.70,573.80 479.80,574.57 479.90,575.36 480.00,576.00 480.10,576.46 480.20,576.74 480.30,576.89 480.40,576.96 480.50,576.98 480.80,576.99 480.90,576.96 481.00,576.89 481.10,576.71 481.20,576.34 481.30,575.65 481.40,574.51 481.50,572.89 481.60,570.93 481.70,568.99 481.80,567.54 481.90,567.00 482.00,567.54 482.10,568.98 482.20,570.89 482.30,572.77 482.40,574.24 482.50,575.11 482.60,575.35 482.70,575.07 482.80,574.46 482.90,573.76 483.00,573.20 483.10,573.00 483.20,573.22 483.30,573.80 483.40,574.57 483.50,575.36 483.60,576.00 483.70,576.46 483.80,576.74 483.90,576.89 484.00,576.96 484.10,576.98 487.10,576.98 487.20,576.96 487.30,576.90 487.40,576.80 487.50,576.63 487.60,576.38 487.70,576.09 487.80,575.80 487.90,575.58 488.00,575.50 488.10,575.58 488.20,575.80 488.30,576.09 488.40,576.38 488.50,576.63 488.60,576.80 488.70,576.90 488.80,576.96 488.90,576.98 491.10,576.98 491.20,576.96 491.30,576.90 491.40,576.80 491.50,576.63 491.60,576.38 491.70,576.09 491.80,575.80 491.90,575.58 492.00,575.50 492.10,575.58 492.20,575.80 492.30,576.09 492.40,576.38 492.50,576.63 492.60,576.80 492.70,576.90 492.80,576.96 492.90,576.98 496.70,576.99 496.80,576.97 496.90,576.91 497.00,576.80 497.10,576.59 497.20,576.25 497.30,575.77 497.40,575.18 497.50,574.60 497.60,574.16 497.70,574.00 497.80,574.16 497.90,574.60 498.00,575.18 498.10,575.77 498.20,576.25 498.30,576.59 498.40,576.80 498.50,576.91 498.60,576.97 498.70,576.99 500.00,576.99 500.10,576.98 500.20,576.94 500.30,576.87 500.40,576.73 500.50,576.50 500.60,576.18 500.70,575.79 500.80,575.40 500.90,575.11 501.00,575.00 501.10,575.11 501.20,575.40 501.30,575.79 501.40,576.18 501.50,576.50 501.60,576.73 501.70,576.87 501.80,576.94 501.90,576.98 502.00,576.99 503.10,576.98 503.20,576.96 503.30,576.90 503.40,576.80 503.50,576.63 503.60,576.38 503.70,576.09 503.80,575.80 503.90,575.58 504.00,575.50 504.10,575.58 504.20,575.80 504.30,576.09 504.40,576.38 504.50,576.63 504.60,576.80 504.70,576.90 504.80,576.96 504.90,576.98 506.00,576.99 506.10,576.98 506.20,576.94 506.30,576.87 506.40,576.73 506.50,576.50 506.60,576.18 506.70,575.79 506.80,575.40 506.90,575.11 507.00,575.00 507.10,575.11 507.20,575.40 507.30,575.79 507.40,576.18 507.50,576.50 507.60,576.73 507.70,576.87 507.80,576.94 507.90,576.98 508.00,576.99 509.10,576.98 509.20,576.96 509.30,576.90 509.40,576.80 509.50,576.63 509.60,576.38 509.70,576.09 509.80,575.80 509.90,575.58 510.00,575.50 510.10,575.58 510.20,575.80 510.30,576.09 510.40,576.38 510.50,576.63 510.60,576.80 510.70,576.90 510.80,576.96 510.90,576.98 511.60,576.99 511.70,576.98 511.80,576.94 511.90,576.87 512.00,576.73 512.10,576.50 512.20,576.18 512.30,575.79 512.40,575.40 512.50,575.11 512.60,575.00 512.70,575.11 512.80,575.40 512.90,575.79 513.00,576.18 513.10,576.50 513.20,576.68 513.30,576.81 513.40,576.88 513.50,576.91 513.60,576.91 513.70,576.91 513.80,576.89 513.90,576.86 514.00,576.81 514.10,576.69 514.20,576.45 514.30,575.96 514.40,575.04 514.50,573.43 514.60,570.91 514.70,567.30 514.80,562.65 514.90,557.21 515.00,551.05 515.10,543.37 515.20,536.44 515.30,543.35 515.40,551.02 515.50,557.10 515.60,562.50 515.70,567.05 515.80,570.46 515.90,572.59 516.00,573.43 516.10,573.05 516.20,571.49 516.30,568.79 516.40,565.12 516.50,560.74 516.60,555.79 516.70,549.50 516.80,543.86 516.90,549.51 517.00,555.77 517.10,560.75 517.20,565.18 517.30,569.02 517.40,571.95 517.50,574.00 517.60,575.29 517.70,576.04 517.80,576.43 517.90,576.61 518.00,576.69 518.10,576.71 518.20,576.71 518.30,576.70 518.40,576.66 518.50,576.60 518.60,576.47 518.70,576.23 518.80,575.63 518.90,574.41 519.00,572.10 519.10,568.12 519.20,561.83 519.30,552.84 519.40,541.26 519.50,527.68 519.60,512.44 519.70,493.24 519.80,475.87 519.90,492.80 520.00,511.53 520.10,526.26 520.20,539.26 520.30,550.17 520.40,558.39 520.50,563.82 520.60,566.82 520.70,568.12 520.80,568.30 520.90,567.86 521.00,567.16 521.10,566.39 521.20,565.70 521.30,565.17 521.40,564.83 521.50,564.73 521.60,564.86 521.70,565.22 521.80,565.80 521.90,566.55 522.00,567.44 522.10,568.42 522.20,569.44 522.30,570.45 522.40,571.42 522.50,572.30 522.60,573.06 522.70,573.64 522.80,573.94 522.90,573.77 523.00,572.86 523.10,570.58 523.20,566.31 523.30,559.36 523.40,549.32 523.50,536.31 523.60,521.01 523.70,503.83 523.80,482.19 523.90,462.67 524.00,482.22 524.10,503.91 524.20,521.14 524.30,536.50 524.40,549.62 524.50,559.80 524.60,566.93 524.70,571.46 524.80,574.07 524.90,575.45 525.00,576.13 525.10,576.46 525.20,576.61 525.30,576.69 525.40,576.74 525.50,576.78 525.60,576.80 525.70,576.82 525.80,576.84 525.90,576.86 526.00,576.87 526.10,576.82 526.20,576.81 526.30,576.77 526.40,576.68 526.50,576.48 526.60,576.10 526.70,575.43 526.80,574.37 526.90,572.86 527.00,570.92 527.10,568.64 527.20,566.08 527.30,562.91 527.40,560.00 527.50,562.91 527.60,566.13 527.70,568.69 527.80,570.98 527.90,572.93 528.00,574.44 528.10,575.45 528.20,576.11 528.30,576.47 528.40,576.63 528.50,576.61 528.60,576.43 528.70,576.02 528.80,575.33 528.90,574.09 529.00,572.40 529.10,570.21 529.20,567.65 529.30,564.79 529.40,561.18 529.50,557.92 529.60,561.16 529.70,564.76 529.80,567.61 529.90,570.16 530.00,572.33 530.10,574.01 530.20,575.17 530.30,575.90 530.40,576.31 530.50,576.51 530.60,576.57 530.70,576.53 530.80,576.40 530.90,576.10 531.00,575.52 531.10,574.28 531.20,571.98 531.30,568.03 531.40,561.85 531.50,553.06 531.60,541.74 531.70,528.48 531.80,513.58 531.90,494.89 532.00,477.94 532.10,493.77 532.20,511.37 532.30,525.24 532.40,537.57 532.50,548.06 532.60,556.17 532.70,561.83 532.80,565.41 532.90,567.54 533.00,568.77 533.10,569.55 533.20,570.16 533.30,570.73 533.40,571.32 533.50,571.93 533.60,572.56 533.70,573.17 533.80,573.73 533.90,574.18 534.00,574.48 534.10,574.53 534.20,574.27 534.30,573.68 534.40,572.85 534.50,571.97 534.60,571.30 534.70,571.10 534.80,571.45 534.90,572.27 535.00,573.33 535.10,574.38 535.20,575.26 535.30,575.80 535.40,576.09 535.50,576.17 535.60,576.12 535.70,576.00 535.80,575.85 535.90,575.67 536.00,575.48 536.10,575.29 536.20,575.11 536.30,574.94 536.40,574.79 536.50,574.67 536.60,574.58 536.70,574.52 536.80,574.50 536.90,574.52 537.00,574.58 537.10,574.67 537.20,574.79 537.30,574.94 537.40,575.11 537.50,575.30 537.60,575.48 537.70,575.67 537.80,575.86 537.90,576.03 538.00,576.19 538.10,576.33 538.20,576.46 538.30,576.57 538.40,576.66 538.50,576.74 538.60,576.80 538.70,576.85 538.80,576.89 538.90,576.92 539.00,576.94 539.10,576.94 539.20,576.93 539.30,576.88 539.40,576.78 539.50,576.62 539.60,576.38 539.70,576.09 539.80,575.80 539.90,575.58 540.00,575.50 540.10,575.58 540.20,575.80 540.30,576.09 540.40,576.38 540.50,576.63 540.60,576.80 540.70,576.90 540.80,576.96 540.90,576.98 543.10,576.99 543.20,576.97 543.30,576.92 543.40,576.84 543.50,576.70 543.60,576.51 543.70,576.27 543.80,576.04 543.90,575.86 544.00,575.80 544.10,575.86 544.20,576.04 544.30,576.27 544.40,576.51 544.50,576.70 544.60,576.84 544.70,576.92 544.80,576.97 544.90,576.99 548.20,576.98 548.30,576.96 548.40,576.90 548.50,576.80 548.60,576.63 548.70,576.38 548.80,576.09 548.90,575.80 549.00,575.58 549.10,575.50 549.20,575.58 549.30,575.80 549.40,576.09 549.50,576.38 549.60,576.63 549.70,576.80 549.80,576.90 549.90,576.96 550.00,576.98 552.30,576.98 552.40,576.96 552.50,576.90 552.60,576.80 552.70,576.63 552.80,576.38 552.90,576.09 553.00,575.80 553.10,575.58 553.20,575.50 553.30,575.58 553.40,575.80 553.50,576.09 553.60,576.38 553.70,576.63 553.80,576.80 553.90,576.90 554.00,576.96 554.10,576.98 554.20,576.99 554.30,576.98 554.40,576.95 554.50,576.88 554.60,576.76 554.70,576.55 554.80,576.26 554.90,575.91 555.00,575.56 555.10,575.30 555.20,575.20 555.30,575.30 555.40,575.56 555.50,575.91 555.60,576.26 555.70,576.55 555.80,576.76 555.90,576.88 556.00,576.95 556.10,576.98 557.80,576.99 557.90,576.98 558.00,576.94 558.10,576.87 558.20,576.73 558.30,576.50 558.40,576.18 558.50,575.79 558.60,575.40 558.70,575.11 558.80,575.00 558.90,575.11 559.00,575.40 559.10,575.79 559.20,576.18 559.30,576.50 559.40,576.71 559.50,576.83 559.60,576.84 559.70,576.77 559.80,576.62 559.90,576.38 560.00,576.09 560.10,575.80 560.20,575.58 560.30,575.50 560.40,575.58 560.50,575.80 560.60,576.09 560.70,576.38 560.80,576.63 560.90,576.80 561.00,576.90 561.10,576.96 561.20,576.98 563.50,576.98 563.60,576.95 563.70,576.88 563.80,576.76 563.90,576.55 564.00,576.26 564.10,575.91 564.20,575.56 564.30,575.30 564.40,575.20 564.50,575.30 564.60,575.56 564.70,575.91 564.80,576.26 564.90,576.55 565.00,576.76 565.10,576.88 565.20,576.95 565.30,576.98 566.60,576.98 566.70,576.96 566.80,576.90 566.90,576.80 567.00,576.63 567.10,576.38 567.20,576.09 567.30,575.80 567.40,575.58 567.50,575.50 567.60,575.58 567.70,575.80 567.80,576.09 567.90,576.38 568.00,576.63 568.10,576.80 568.20,576.90 568.30,576.96 568.40,576.98 571.60,576.98 571.70,576.94 571.80,576.86 571.90,576.67 572.00,576.32 572.10,575.75 572.20,574.94 572.30,573.97 572.40,573.00 572.50,572.27 572.60,572.00 572.70,572.27 572.80,573.00 572.90,573.97 573.00,574.94 573.10,575.75 573.20,576.32 573.30,576.67 573.40,576.86 573.50,576.94 573.60,576.96 573.70,576.94 573.80,576.87 573.90,576.70 574.00,576.38 574.10,575.85 574.20,575.11 574.30,574.21 574.40,573.32 574.50,572.65 574.60,572.40 574.70,572.65 574.80,573.32 574.90,574.21 575.00,575.11 575.10,575.85 575.20,576.38 575.30,576.70 575.40,576.87 575.50,576.95 575.60,576.98 577.00,577.00 577.10,576.95 577.20,576.94 577.30,576.94 577.40,576.93 577.50,576.93 577.60,576.92 577.70,576.91 577.80,576.90 577.90,576.89 578.00,576.87 578.10,576.85 578.20,576.83 578.30,576.78 578.40,576.69 578.50,576.51 578.60,576.12 578.70,575.34 578.80,573.87 578.90,571.32 579.00,567.30 579.10,561.55 579.20,554.15 579.30,545.48 579.40,535.76 579.50,523.53 579.60,512.50 579.70,523.53 579.80,535.76 579.90,545.48 580.00,554.15 580.10,561.55 580.20,567.30 580.30,571.32 580.40,573.87 580.50,575.34 580.60,576.12 580.70,576.51 580.80,576.69 580.90,576.78 581.00,576.83 581.10,576.85 581.20,576.87 581.30,576.89 581.40,576.90 581.50,576.91 581.60,576.92 581.70,576.91 581.80,576.89 581.90,576.81 582.00,576.62 582.10,576.21 582.20,575.47 582.30,574.18 582.40,572.35 582.50,570.15 582.60,567.95 582.70,566.31 582.80,565.70 582.90,566.31 583.00,567.95 583.10,570.14 583.20,572.35 583.30,574.16 583.40,575.40 583.50,576.07 583.60,576.24 583.70,575.97 583.80,575.29 583.90,574.23 584.00,572.93 584.10,571.63 584.20,570.66 584.30,570.30 584.40,570.66 584.50,571.64 584.60,572.94 584.70,574.25 584.80,575.33 584.90,576.09 585.00,576.56 585.10,576.81 585.20,576.93 585.30,576.97 585.40,576.99 585.50,576.94 585.60,576.94 585.70,576.94 585.80,576.93 585.90,576.93 586.00,576.92 586.10,576.91 586.20,576.90 586.30,576.89 586.40,576.88 586.50,576.87 586.60,576.85 586.70,576.83 586.80,576.79 586.90,576.74 587.00,576.64 587.10,576.42 587.20,575.96 587.30,575.04 587.40,573.29 587.50,570.26 587.60,565.49 587.70,558.68 587.80,549.90 587.90,539.62 588.00,528.09 588.10,513.58 588.20,500.50 588.30,513.58 588.40,528.09 588.50,539.62 588.60,549.90 588.70,558.68 588.80,565.49 588.90,570.26 589.00,573.29 589.10,575.04 589.20,575.96 589.30,576.42 589.40,576.62 589.50,576.69 589.60,576.66 589.70,576.49 589.80,576.07 589.90,575.27 590.00,573.94 590.10,572.04 590.20,569.75 590.30,567.46 590.40,565.76 590.50,565.13 590.60,565.77 590.70,567.49 590.80,569.79 590.90,572.09 591.00,574.05 591.10,575.37 591.20,576.14 591.30,576.47 591.40,576.46 591.50,576.21 591.60,575.75 591.70,575.18 591.80,574.60 591.90,574.16 592.00,574.00 592.10,574.16 592.20,574.60 592.30,575.18 592.40,575.77 592.50,576.25 592.60,576.59 592.70,576.80 592.80,576.91 592.90,576.96 593.00,576.98 593.10,576.98 593.20,576.96 593.30,576.90 593.40,576.80 593.50,576.63 593.60,576.38 593.70,576.09 593.80,575.80 593.90,575.58 594.00,575.50 594.10,575.58 594.20,575.80 594.30,576.09 594.40,576.38 594.50,576.63 594.60,576.80 594.70,576.90 594.80,576.96 594.90,576.98 607.40,576.99 607.50,576.97 607.60,576.91 607.70,576.80 607.80,576.59 607.90,576.25 608.00,575.77 608.10,575.18 608.20,574.60 608.30,574.16 608.40,574.00 608.50,574.16 608.60,574.60 608.70,575.18 608.80,575.77 608.90,576.25 609.00,576.59 609.10,576.80 609.20,576.91 609.30,576.97 609.40,576.99 610.10,576.99 610.20,576.97 610.30,576.92 610.40,576.79 610.50,576.53 610.60,576.03 610.70,575.20 610.80,574.04 610.90,572.63 611.00,571.23 611.10,570.19 611.20,569.80 611.30,570.19 611.40,571.23 611.50,572.63 611.60,574.04 611.70,575.20 611.80,576.03 611.90,576.53 612.00,576.79 612.10,576.92 612.20,576.97 612.30,576.99 624.30,576.98 624.40,576.96 624.50,576.90 624.60,576.80 624.70,576.63 624.80,576.38 624.90,576.09 625.00,575.80 625.10,575.58 625.20,575.50 625.30,575.58 625.40,575.80 625.50,576.09 625.60,576.38 625.70,576.63 625.80,576.80 625.90,576.90 626.00,576.96 626.10,576.98 627.10,576.98 627.20,576.96 627.30,576.90 627.40,576.80 627.50,576.63 627.60,576.38 627.70,576.09 627.80,575.80 627.90,575.58 628.00,575.50 628.10,575.58 628.20,575.80 628.30,576.09 628.40,576.38 628.50,576.63 628.60,576.80 628.70,576.90 628.80,576.96 628.90,576.98 639.30,576.99 639.40,576.98 639.50,576.94 639.60,576.84 639.70,576.63 639.80,576.23 639.90,575.58 640.00,574.66 640.10,573.54 640.20,572.44 640.30,571.61 640.40,571.30 640.50,571.61 640.60,572.44 640.70,573.54 640.80,574.66 640.90,575.58 641.00,576.23 641.10,576.63 641.20,576.84 641.30,576.94 641.40,576.98 641.50,576.99 641.70,576.99 641.80,576.96 641.90,576.90 642.00,576.77 642.10,576.53 642.20,576.13 642.30,575.56 642.40,574.88 642.50,574.20 642.60,573.69 642.70,573.50 642.80,573.69 642.90,574.20 643.00,574.88 643.10,575.56 643.20,576.13 643.30,576.53 643.40,576.77 643.50,576.90 643.60,576.96 643.70,576.99 644.60,576.99 644.70,576.97 644.80,576.91 644.90,576.80 645.00,576.59 645.10,576.25 645.20,575.77 645.30,575.18 645.40,574.60 645.50,574.16 645.60,574.00 645.70,574.16 645.80,574.60 645.90,575.18 646.00,575.77 646.10,576.25 646.20,576.59 646.30,576.80 646.40,576.91 646.50,576.97 646.60,576.99 647.00,576.98 647.10,576.95 647.20,576.87 647.30,576.71 647.40,576.40 647.50,575.90 647.60,575.19 647.70,574.33 647.80,573.48 647.90,572.84 648.00,572.60 648.10,572.84 648.20,573.48 648.30,574.33 648.40,575.19 648.50,575.90 648.60,576.40 648.70,576.71 648.80,576.87 648.90,576.95 649.00,576.98 649.50,576.99 649.60,576.98 649.70,576.94 649.80,576.87 649.90,576.73 650.00,576.50 650.10,576.18 650.20,575.79 650.30,575.40 650.40,575.11 650.50,575.00 650.60,575.11 650.70,575.40 650.80,575.79 650.90,576.18 651.00,576.50 651.10,576.73 651.20,576.87 651.30,576.94 651.40,576.98 651.50,576.99 652.00,576.99 652.10,576.98 652.20,576.94 652.30,576.87 652.40,576.73 652.50,576.50 652.60,576.18 652.70,575.79 652.80,575.40 652.90,575.11 653.00,575.00 653.10,575.11 653.20,575.40 653.30,575.79 653.40,576.18 653.50,576.50 653.60,576.73 653.70,576.87 653.80,576.94 653.90,576.98 654.00,576.99 666.00,576.99 666.10,576.98 666.20,576.94 666.30,576.87 666.40,576.73 666.50,576.50 666.60,576.18 666.70,575.79 666.80,575.40 666.90,575.11 667.00,575.00 667.10,575.11 667.20,575.40 667.30,575.79 667.40,576.18 667.50,576.50 667.60,576.73 667.70,576.87 667.80,576.94 667.90,576.98 668.00,576.99 670.70,577.00" fill="none" stroke="#222" stroke-width="0.65" stroke-linejoin="round"/>
<line x1="396.50" y1="468.20" x2="396.50" y2="577.50" stroke="#555" stroke-width="1"/>
<line x1="390.00" y1="474.50" x2="396.50" y2="474.50" stroke="#333" stroke-width="1"/>
<path transform="translate(357.40,478.40) scale(0.00791,-0.00791)" d="M763 0L583 0L583 1147Q518 1085 412 1023Q306 961 222 930L222 1104Q373 1175 486 1276Q599 1377 646 1466L763 1466Z" fill="#111"/>
<text x="357.40" y="478.40" font-size="16.2" font-weight="normal" font-style="normal" fill="#111" > 0.0</text>
<line x1="390.00" y1="508.40" x2="396.50" y2="508.40" stroke="#333" stroke-width="1"/>
<text x="365.11" y="513.40" font-size="16.2" font-weight="normal" font-style="normal" fill="#111" >5.0</text>
<line x1="390.00" y1="543.20" x2="396.50" y2="543.20" stroke="#333" stroke-width="1"/>
<text x="366.16" y="547.80" font-size="16.2" font-weight="normal" font-style="normal" fill="#111" >2.5</text>
<line x1="390.00" y1="576.80" x2="396.50" y2="576.80" stroke="#333" stroke-width="1"/>
<text x="380.12" y="581.50" font-size="16.2" font-weight="normal" font-style="normal" fill="#111" >0</text>
<line x1="395.70" y1="579.90" x2="670.60" y2="579.90" stroke="#666" stroke-width="1"/>
<line x1="395.70" y1="579.90" x2="395.70" y2="585.30" stroke="#666" stroke-width="1"/>
<line x1="450.80" y1="579.90" x2="450.80" y2="585.30" stroke="#666" stroke-width="1"/>
<line x1="505.80" y1="579.90" x2="505.80" y2="585.30" stroke="#666" stroke-width="1"/>
<line x1="560.50" y1="579.90" x2="560.50" y2="585.30" stroke="#666" stroke-width="1"/>
<line x1="615.70" y1="579.90" x2="615.70" y2="585.30" stroke="#666" stroke-width="1"/>
<line x1="670.60" y1="579.90" x2="670.60" y2="585.30" stroke="#666" stroke-width="1"/>
<text x="372.76" y="601.90" font-size="16.2" font-weight="normal" font-style="normal" fill="#111" >4,200</text>
<text x="427.96" y="601.90" font-size="16.2" font-weight="normal" font-style="normal" fill="#111" >4,400</text>
<text x="482.86" y="601.90" font-size="16.2" font-weight="normal" font-style="normal" fill="#111" >4,600</text>
<text x="537.86" y="601.90" font-size="16.2" font-weight="normal" font-style="normal" fill="#111" >4,800</text>
<text x="592.82" y="601.90" font-size="16.2" font-weight="normal" font-style="normal" fill="#111" >5,000</text>
<text x="644.02" y="601.90" font-size="16.2" font-weight="normal" font-style="normal" fill="#111" >5,200</text>
<text x="515.69" y="614.30" font-size="16" font-weight="normal" font-style="italic" fill="#111" >m/z</text>
<text transform="translate(350.90,571.60) rotate(-90)" x="0" y="0" font-size="16.3" fill="#111">Intensity (e4)</text>
<text x="347.44" y="428.00" font-size="15.3" font-weight="bold" font-style="normal" fill="#000" >f</text>
<text x="395.30" y="428.80" font-size="16.3" font-weight="normal" font-style="italic" fill="#8c8c8c" >D. circinale</text>
<text x="481.22" y="428.80" font-size="16.3" font-weight="bold" font-style="normal" fill="#111" >+</text>
<text x="495.50" y="428.80" font-size="16.3" font-weight="normal" font-style="italic" fill="#111" >G. lithophora</text>
<text x="416.64" y="520.90" font-size="13.5" font-weight="normal" font-style="normal" fill="#111" >25+</text>
<text x="457.44" y="492.70" font-size="13.5" font-weight="normal" font-style="normal" fill="#111" >24+</text>
<text x="470.84" y="521.80" font-size="13.5" font-weight="normal" font-style="normal" fill="#111" >25+</text>
<text x="483.24" y="449.10" font-size="13.5" font-weight="normal" font-style="normal" fill="#111" >23+</text>
<text x="545.49" y="449.70" font-size="13.5" font-weight="normal" font-style="normal" fill="#111" >24+</text>
<text x="577.49" y="478.30" font-size="13.5" font-weight="normal" font-style="normal" fill="#111" >23+</text>
<text x="557.69" y="543.20" font-size="13.5" font-weight="normal" font-style="normal" fill="#111" >22+</text>
<line x1="407.20" y1="564.70" x2="410.06" y2="568.43" stroke="#111" stroke-width="1.1"/>
<polygon points="412.80,572.00 407.69,569.62 411.82,566.45" fill="#111"/>
<line x1="412.20" y1="547.70" x2="416.07" y2="566.00" stroke="#111" stroke-width="1.1"/>
<polygon points="417.00,570.40 413.42,566.05 418.51,564.97" fill="#111"/>
<line x1="425.00" y1="543.20" x2="422.91" y2="561.43" stroke="#111" stroke-width="1.1"/>
<polygon points="422.40,565.90 420.39,560.64 425.55,561.23" fill="#111"/>
<line x1="435.10" y1="553.00" x2="429.51" y2="563.53" stroke="#111" stroke-width="1.1"/>
<polygon points="427.40,567.50 427.45,561.86 432.04,564.30" fill="#111"/>
<line x1="459.70" y1="537.70" x2="460.70" y2="542.11" stroke="#111" stroke-width="1.1"/>
<polygon points="461.70,546.50 458.06,542.20 463.13,541.05" fill="#111"/>
<line x1="455.40" y1="560.80" x2="460.46" y2="567.01" stroke="#111" stroke-width="1.1"/>
<polygon points="463.30,570.50 458.13,568.26 462.16,564.98" fill="#111"/>
<line x1="484.60" y1="549.50" x2="475.49" y2="555.83" stroke="#111" stroke-width="1.1"/>
<polygon points="471.80,558.40 474.42,553.41 477.39,557.68" fill="#111"/>
<line x1="495.40" y1="560.80" x2="486.07" y2="564.60" stroke="#111" stroke-width="1.1"/>
<polygon points="481.90,566.30 485.55,562.01 487.51,566.82" fill="#111"/>
<line x1="512.60" y1="526.90" x2="513.58" y2="530.74" stroke="#111" stroke-width="1.1"/>
<polygon points="514.70,535.10 510.94,530.90 515.98,529.61" fill="#111"/>
<line x1="537.70" y1="548.50" x2="531.85" y2="557.52" stroke="#111" stroke-width="1.1"/>
<polygon points="529.40,561.30 529.94,555.69 534.30,558.52" fill="#111"/>
<line x1="513.10" y1="469.40" x2="516.15" y2="473.12" stroke="#111" stroke-width="1.1"/>
<polygon points="519.00,476.60 513.82,474.38 517.84,471.08" fill="#111"/>
<line x1="517.00" y1="455.00" x2="520.12" y2="458.74" stroke="#111" stroke-width="1.1"/>
<polygon points="523.00,462.20 517.80,460.02 521.80,456.69" fill="#111"/>
<line x1="530.20" y1="455.60" x2="527.30" y2="458.85" stroke="#111" stroke-width="1.1"/>
<polygon points="524.30,462.20 525.69,456.74 529.57,460.21" fill="#111"/>
<line x1="538.10" y1="473.40" x2="535.05" y2="477.12" stroke="#111" stroke-width="1.1"/>
<polygon points="532.20,480.60 533.36,475.08 537.38,478.38" fill="#111"/>
<line x1="573.80" y1="504.90" x2="576.75" y2="508.30" stroke="#111" stroke-width="1.1"/>
<polygon points="579.70,511.70 574.46,509.63 578.39,506.22" fill="#111"/>
<line x1="570.00" y1="560.90" x2="570.89" y2="565.19" stroke="#111" stroke-width="1.1"/>
<polygon points="571.80,569.60 568.24,565.23 573.33,564.18" fill="#111"/>
<circle cx="402.90" cy="551.60" r="2.2" fill="#90e85e" stroke="#2e7f2c" stroke-width="1.1"/>
<circle cx="406.90" cy="551.60" r="2.2" fill="#90e85e" stroke="#2e7f2c" stroke-width="1.1"/>
<circle cx="400.75" cy="556.40" r="2.2" fill="#90e85e" stroke="#2e7f2c" stroke-width="1.1"/>
<circle cx="409.05" cy="556.40" r="2.2" fill="#90e85e" stroke="#2e7f2c" stroke-width="1.1"/>
<circle cx="402.90" cy="561.20" r="2.2" fill="#90e85e" stroke="#2e7f2c" stroke-width="1.1"/>
<circle cx="406.90" cy="561.20" r="2.2" fill="#90e85e" stroke="#2e7f2c" stroke-width="1.1"/>
<circle cx="408.60" cy="534.20" r="2.2" fill="#90e85e" stroke="#2e7f2c" stroke-width="1.1"/>
<circle cx="412.60" cy="534.20" r="2.2" fill="#468a2c" stroke="#1c4c14" stroke-width="1.1"/>
<circle cx="406.45" cy="539.00" r="2.2" fill="#90e85e" stroke="#2e7f2c" stroke-width="1.1"/>
<circle cx="414.75" cy="539.00" r="2.2" fill="#468a2c" stroke="#1c4c14" stroke-width="1.1"/>
<circle cx="408.60" cy="543.80" r="2.2" fill="#90e85e" stroke="#2e7f2c" stroke-width="1.1"/>
<circle cx="412.60" cy="543.80" r="2.2" fill="#90e85e" stroke="#2e7f2c" stroke-width="1.1"/>
<circle cx="423.90" cy="529.50" r="2.2" fill="#468a2c" stroke="#1c4c14" stroke-width="1.1"/>
<circle cx="427.90" cy="529.50" r="2.2" fill="#468a2c" stroke="#1c4c14" stroke-width="1.1"/>
<circle cx="421.75" cy="534.30" r="2.2" fill="#468a2c" stroke="#1c4c14" stroke-width="1.1"/>
<circle cx="430.05" cy="534.30" r="2.2" fill="#468a2c" stroke="#1c4c14" stroke-width="1.1"/>
<circle cx="423.90" cy="539.10" r="2.2" fill="#90e85e" stroke="#2e7f2c" stroke-width="1.1"/>
<circle cx="427.90" cy="539.10" r="2.2" fill="#90e85e" stroke="#2e7f2c" stroke-width="1.1"/>
<circle cx="436.40" cy="540.70" r="2.2" fill="#468a2c" stroke="#1c4c14" stroke-width="1.1"/>
<circle cx="440.40" cy="540.70" r="2.2" fill="#468a2c" stroke="#1c4c14" stroke-width="1.1"/>
<circle cx="434.25" cy="545.50" r="2.2" fill="#468a2c" stroke="#1c4c14" stroke-width="1.1"/>
<circle cx="442.55" cy="545.50" r="2.2" fill="#468a2c" stroke="#1c4c14" stroke-width="1.1"/>
<circle cx="436.40" cy="550.30" r="2.2" fill="#468a2c" stroke="#1c4c14" stroke-width="1.1"/>
<circle cx="440.40" cy="550.30" r="2.2" fill="#468a2c" stroke="#1c4c14" stroke-width="1.1"/>
<circle cx="448.60" cy="552.50" r="2.2" fill="#4cabdd" stroke="#2a7fb5" stroke-width="1.1"/>
<circle cx="452.60" cy="552.50" r="2.2" fill="#2d6e98" stroke="#173f5f" stroke-width="1.1"/>
<circle cx="446.45" cy="557.30" r="2.2" fill="#4cabdd" stroke="#2a7fb5" stroke-width="1.1"/>
<circle cx="454.75" cy="557.30" r="2.2" fill="#2d6e98" stroke="#173f5f" stroke-width="1.1"/>
<circle cx="448.60" cy="562.10" r="2.2" fill="#4cabdd" stroke="#2a7fb5" stroke-width="1.1"/>
<circle cx="452.60" cy="562.10" r="2.2" fill="#4cabdd" stroke="#2a7fb5" stroke-width="1.1"/>
<circle cx="456.50" cy="524.40" r="2.2" fill="#90e85e" stroke="#2e7f2c" stroke-width="1.1"/>
<circle cx="460.50" cy="524.40" r="2.2" fill="#90e85e" stroke="#2e7f2c" stroke-width="1.1"/>
<circle cx="454.35" cy="529.20" r="2.2" fill="#90e85e" stroke="#2e7f2c" stroke-width="1.1"/>
<circle cx="462.65" cy="529.20" r="2.2" fill="#90e85e" stroke="#2e7f2c" stroke-width="1.1"/>
<circle cx="456.50" cy="534.00" r="2.2" fill="#90e85e" stroke="#2e7f2c" stroke-width="1.1"/>
<circle cx="460.50" cy="534.00" r="2.2" fill="#90e85e" stroke="#2e7f2c" stroke-width="1.1"/>
<circle cx="464.90" cy="501.20" r="2.2" fill="#90e85e" stroke="#2e7f2c" stroke-width="1.1"/>
<circle cx="468.90" cy="501.20" r="2.2" fill="#468a2c" stroke="#1c4c14" stroke-width="1.1"/>
<circle cx="462.75" cy="506.00" r="2.2" fill="#90e85e" stroke="#2e7f2c" stroke-width="1.1"/>
<circle cx="471.05" cy="506.00" r="2.2" fill="#468a2c" stroke="#1c4c14" stroke-width="1.1"/>
<circle cx="464.90" cy="510.80" r="2.2" fill="#90e85e" stroke="#2e7f2c" stroke-width="1.1"/>
<circle cx="468.90" cy="510.80" r="2.2" fill="#90e85e" stroke="#2e7f2c" stroke-width="1.1"/>
<circle cx="472.30" cy="526.70" r="2.2" fill="#2d6e98" stroke="#173f5f" stroke-width="1.1"/>
<circle cx="476.30" cy="526.70" r="2.2" fill="#2d6e98" stroke="#173f5f" stroke-width="1.1"/>
<circle cx="470.15" cy="531.50" r="2.2" fill="#2d6e98" stroke="#173f5f" stroke-width="1.1"/>
<circle cx="478.45" cy="531.50" r="2.2" fill="#2d6e98" stroke="#173f5f" stroke-width="1.1"/>
<circle cx="472.30" cy="536.30" r="2.2" fill="#4cabdd" stroke="#2a7fb5" stroke-width="1.1"/>
<circle cx="476.30" cy="536.30" r="2.2" fill="#4cabdd" stroke="#2a7fb5" stroke-width="1.1"/>
<circle cx="488.50" cy="539.60" r="2.2" fill="#468a2c" stroke="#1c4c14" stroke-width="1.1"/>
<circle cx="492.50" cy="539.60" r="2.2" fill="#468a2c" stroke="#1c4c14" stroke-width="1.1"/>
<circle cx="486.35" cy="544.40" r="2.2" fill="#468a2c" stroke="#1c4c14" stroke-width="1.1"/>
<circle cx="494.65" cy="544.40" r="2.2" fill="#468a2c" stroke="#1c4c14" stroke-width="1.1"/>
<circle cx="488.50" cy="549.20" r="2.2" fill="#90e85e" stroke="#2e7f2c" stroke-width="1.1"/>
<circle cx="492.50" cy="549.20" r="2.2" fill="#90e85e" stroke="#2e7f2c" stroke-width="1.1"/>
<circle cx="500.20" cy="552.70" r="2.2" fill="#2d6e98" stroke="#173f5f" stroke-width="1.1"/>
<circle cx="504.20" cy="552.70" r="2.2" fill="#2d6e98" stroke="#173f5f" stroke-width="1.1"/>
<circle cx="498.05" cy="557.50" r="2.2" fill="#2d6e98" stroke="#173f5f" stroke-width="1.1"/>
<circle cx="506.35" cy="557.50" r="2.2" fill="#2d6e98" stroke="#173f5f" stroke-width="1.1"/>
<circle cx="500.20" cy="562.30" r="2.2" fill="#2d6e98" stroke="#173f5f" stroke-width="1.1"/>
<circle cx="504.20" cy="562.30" r="2.2" fill="#2d6e98" stroke="#173f5f" stroke-width="1.1"/>
<circle cx="509.90" cy="513.80" r="2.2" fill="#90e85e" stroke="#2e7f2c" stroke-width="1.1"/>
<circle cx="513.90" cy="513.80" r="2.2" fill="#90e85e" stroke="#2e7f2c" stroke-width="1.1"/>
<circle cx="507.75" cy="518.60" r="2.2" fill="#90e85e" stroke="#2e7f2c" stroke-width="1.1"/>
<circle cx="516.05" cy="518.60" r="2.2" fill="#90e85e" stroke="#2e7f2c" stroke-width="1.1"/>
<circle cx="509.90" cy="523.40" r="2.2" fill="#90e85e" stroke="#2e7f2c" stroke-width="1.1"/>
<circle cx="513.90" cy="523.40" r="2.2" fill="#90e85e" stroke="#2e7f2c" stroke-width="1.1"/>
<circle cx="541.10" cy="538.40" r="2.2" fill="#468a2c" stroke="#1c4c14" stroke-width="1.1"/>
<circle cx="545.10" cy="538.40" r="2.2" fill="#468a2c" stroke="#1c4c14" stroke-width="1.1"/>
<circle cx="538.95" cy="543.20" r="2.2" fill="#468a2c" stroke="#1c4c14" stroke-width="1.1"/>
<circle cx="547.25" cy="543.20" r="2.2" fill="#468a2c" stroke="#1c4c14" stroke-width="1.1"/>
<circle cx="541.10" cy="548.00" r="2.2" fill="#468a2c" stroke="#1c4c14" stroke-width="1.1"/>
<circle cx="545.10" cy="548.00" r="2.2" fill="#468a2c" stroke="#1c4c14" stroke-width="1.1"/>
<circle cx="504.90" cy="460.70" r="2.2" fill="#90e85e" stroke="#2e7f2c" stroke-width="1.1"/>
<circle cx="508.90" cy="460.70" r="2.2" fill="#468a2c" stroke="#1c4c14" stroke-width="1.1"/>
<circle cx="502.75" cy="465.50" r="2.2" fill="#90e85e" stroke="#2e7f2c" stroke-width="1.1"/>
<circle cx="511.05" cy="465.50" r="2.2" fill="#468a2c" stroke="#1c4c14" stroke-width="1.1"/>
<circle cx="504.90" cy="470.30" r="2.2" fill="#90e85e" stroke="#2e7f2c" stroke-width="1.1"/>
<circle cx="508.90" cy="470.30" r="2.2" fill="#90e85e" stroke="#2e7f2c" stroke-width="1.1"/>
<circle cx="513.90" cy="442.50" r="2.2" fill="#468a2c" stroke="#1c4c14" stroke-width="1.1"/>
<circle cx="517.90" cy="442.50" r="2.2" fill="#468a2c" stroke="#1c4c14" stroke-width="1.1"/>
<circle cx="511.75" cy="447.30" r="2.2" fill="#468a2c" stroke="#1c4c14" stroke-width="1.1"/>
<circle cx="520.05" cy="447.30" r="2.2" fill="#468a2c" stroke="#1c4c14" stroke-width="1.1"/>
<circle cx="513.90" cy="452.10" r="2.2" fill="#90e85e" stroke="#2e7f2c" stroke-width="1.1"/>
<circle cx="517.90" cy="452.10" r="2.2" fill="#90e85e" stroke="#2e7f2c" stroke-width="1.1"/>
<circle cx="533.70" cy="444.70" r="2.2" fill="#2d6e98" stroke="#173f5f" stroke-width="1.1"/>
<circle cx="537.70" cy="444.70" r="2.2" fill="#2d6e98" stroke="#173f5f" stroke-width="1.1"/>
<circle cx="531.55" cy="449.50" r="2.2" fill="#2d6e98" stroke="#173f5f" stroke-width="1.1"/>
<circle cx="539.85" cy="449.50" r="2.2" fill="#2d6e98" stroke="#173f5f" stroke-width="1.1"/>
<circle cx="533.70" cy="454.30" r="2.2" fill="#4cabdd" stroke="#2a7fb5" stroke-width="1.1"/>
<circle cx="537.70" cy="454.30" r="2.2" fill="#4cabdd" stroke="#2a7fb5" stroke-width="1.1"/>
<circle cx="542.30" cy="464.30" r="2.2" fill="#2d6e98" stroke="#173f5f" stroke-width="1.1"/>
<circle cx="546.30" cy="464.30" r="2.2" fill="#2d6e98" stroke="#173f5f" stroke-width="1.1"/>
<circle cx="540.15" cy="469.10" r="2.2" fill="#2d6e98" stroke="#173f5f" stroke-width="1.1"/>
<circle cx="548.45" cy="469.10" r="2.2" fill="#2d6e98" stroke="#173f5f" stroke-width="1.1"/>
<circle cx="542.30" cy="473.90" r="2.2" fill="#2d6e98" stroke="#173f5f" stroke-width="1.1"/>
<circle cx="546.30" cy="473.90" r="2.2" fill="#2d6e98" stroke="#173f5f" stroke-width="1.1"/>
<circle cx="586.00" cy="486.70" r="2.2" fill="#2d6e98" stroke="#173f5f" stroke-width="1.1"/>
<circle cx="590.00" cy="486.70" r="2.2" fill="#2d6e98" stroke="#173f5f" stroke-width="1.1"/>
<circle cx="583.85" cy="491.50" r="2.2" fill="#2d6e98" stroke="#173f5f" stroke-width="1.1"/>
<circle cx="592.15" cy="491.50" r="2.2" fill="#2d6e98" stroke="#173f5f" stroke-width="1.1"/>
<circle cx="586.00" cy="496.30" r="2.2" fill="#2d6e98" stroke="#173f5f" stroke-width="1.1"/>
<circle cx="590.00" cy="496.30" r="2.2" fill="#2d6e98" stroke="#173f5f" stroke-width="1.1"/>
<circle cx="565.80" cy="495.90" r="2.2" fill="#2d6e98" stroke="#173f5f" stroke-width="1.1"/>
<circle cx="569.80" cy="495.90" r="2.2" fill="#2d6e98" stroke="#173f5f" stroke-width="1.1"/>
<circle cx="563.65" cy="500.70" r="2.2" fill="#2d6e98" stroke="#173f5f" stroke-width="1.1"/>
<circle cx="571.95" cy="500.70" r="2.2" fill="#2d6e98" stroke="#173f5f" stroke-width="1.1"/>
<circle cx="565.80" cy="505.50" r="2.2" fill="#4cabdd" stroke="#2a7fb5" stroke-width="1.1"/>
<circle cx="569.80" cy="505.50" r="2.2" fill="#4cabdd" stroke="#2a7fb5" stroke-width="1.1"/>
<circle cx="567.00" cy="547.80" r="2.2" fill="#90e85e" stroke="#2e7f2c" stroke-width="1.1"/>
<circle cx="571.00" cy="547.80" r="2.2" fill="#90e85e" stroke="#2e7f2c" stroke-width="1.1"/>
<circle cx="564.85" cy="552.60" r="2.2" fill="#90e85e" stroke="#2e7f2c" stroke-width="1.1"/>
<circle cx="573.15" cy="552.60" r="2.2" fill="#90e85e" stroke="#2e7f2c" stroke-width="1.1"/>
<circle cx="567.00" cy="557.40" r="2.2" fill="#90e85e" stroke="#2e7f2c" stroke-width="1.1"/>
<circle cx="571.00" cy="557.40" r="2.2" fill="#90e85e" stroke="#2e7f2c" stroke-width="1.1"/>
</svg></div>
</body></html>
